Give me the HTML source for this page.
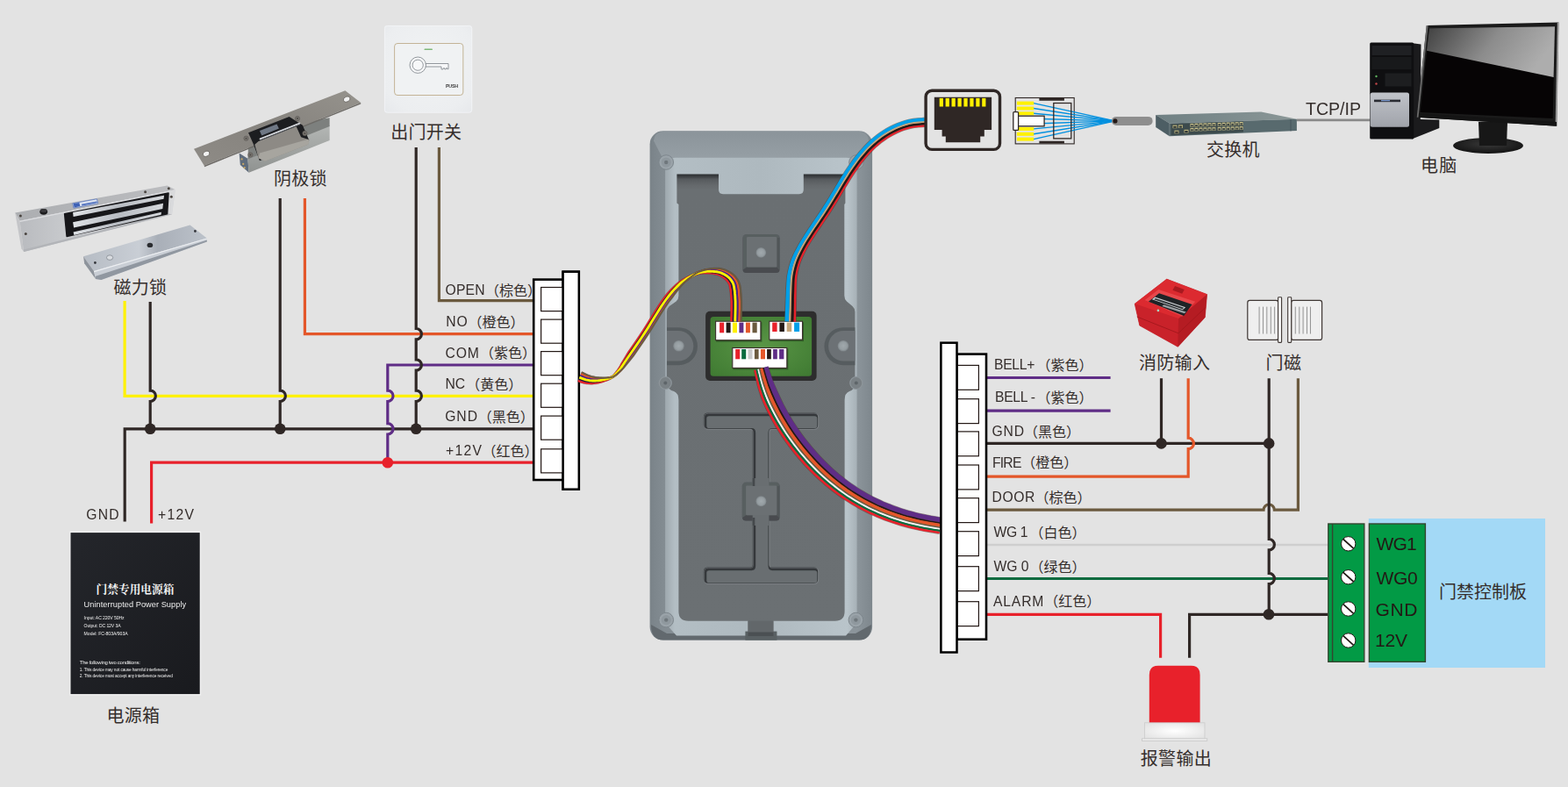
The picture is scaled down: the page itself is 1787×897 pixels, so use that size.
<!DOCTYPE html>
<html lang="zh"><head><meta charset="utf-8"><title>门禁接线图</title>
<style>
html,body{margin:0;padding:0;background:#e3e3e3;}
body{width:1787px;height:897px;overflow:hidden;font-family:"Liberation Sans",sans-serif;}
svg{display:block;}
</style></head><body>
<svg width="1787" height="897" viewBox="0 0 1787 897" font-family="'Liberation Sans', sans-serif"><defs>
<linearGradient id="dvBody" x1="0" x2="1" y1="0" y2="0"><stop offset="0" stop-color="#7a8389"/><stop offset="0.07" stop-color="#848d93"/><stop offset="0.93" stop-color="#8c959b"/><stop offset="1" stop-color="#7e878d"/></linearGradient>
<linearGradient id="dvTop" x1="0" x2="0" y1="0" y2="1"><stop offset="0" stop-color="#8b949a"/><stop offset="1" stop-color="#98a1a7"/></linearGradient>
<linearGradient id="dvFrame" x1="0" x2="1" y1="0" y2="0"><stop offset="0" stop-color="#9ea8ae"/><stop offset="0.05" stop-color="#b3bec4"/><stop offset="0.5" stop-color="#aeb9bf"/><stop offset="0.95" stop-color="#b9c4ca"/><stop offset="1" stop-color="#a7b1b7"/></linearGradient>
<linearGradient id="dvPanel" x1="0" x2="0" y1="0" y2="1"><stop offset="0" stop-color="#2c2f31"/><stop offset="0.005" stop-color="#3c3f42"/><stop offset="0.011" stop-color="#565a5d"/><stop offset="0.024" stop-color="#65696c"/><stop offset="0.034" stop-color="#6a6f72"/><stop offset="1" stop-color="#6b7073"/></linearGradient>
<radialGradient id="pcb" cx="0.5" cy="0.5" r="0.7"><stop offset="0" stop-color="#5a9646"/><stop offset="1" stop-color="#3f7a32"/></radialGradient>
<linearGradient id="boss" x1="0" x2="1" y1="0" y2="1"><stop offset="0" stop-color="#7a8084"/><stop offset="1" stop-color="#5f6467"/></linearGradient>
<radialGradient id="bossd" cx="0.5" cy="0.5" r="0.5"><stop offset="0" stop-color="#a1a9ad"/><stop offset="0.7" stop-color="#959da1"/><stop offset="1" stop-color="#7d8488"/></radialGradient>
<filter id="b05" x="-10%" y="-10%" width="120%" height="120%"><feGaussianBlur stdDeviation="0.45"/></filter>
<filter id="b1" x="-20%" y="-20%" width="140%" height="140%"><feGaussianBlur stdDeviation="0.7"/></filter>
<filter id="b2" x="-20%" y="-20%" width="140%" height="140%"><feGaussianBlur stdDeviation="1.6"/></filter>
<radialGradient id="albase" cx="0.5" cy="0.5" r="0.6"><stop offset="0" stop-color="#ffffff"/><stop offset="1" stop-color="#e4e4e4"/></radialGradient><linearGradient id="swtop" x1="0" x2="1"><stop offset="0" stop-color="#6f8083"/><stop offset="1" stop-color="#8b9797"/></linearGradient><linearGradient id="pcsil" x1="0" x2="0" y1="0" y2="1"><stop offset="0" stop-color="#c0c3c9"/><stop offset="1" stop-color="#a0a3aa"/></linearGradient>
<linearGradient id="scr" x1="0" x2="1" y1="0" y2="0.3"><stop offset="0" stop-color="#404040"/><stop offset="0.55" stop-color="#8c8c8c"/><stop offset="1" stop-color="#adadad"/></linearGradient>
<radialGradient id="mbase" cx="0.5" cy="0.4" r="0.6"><stop offset="0" stop-color="#3a3a3a"/><stop offset="1" stop-color="#121212"/></radialGradient><radialGradient id="exb" cx="0.5" cy="0.45" r="0.75"><stop offset="0" stop-color="#f1f3f4"/><stop offset="0.75" stop-color="#eceef0"/><stop offset="1" stop-color="#e6e8eb"/></radialGradient><linearGradient id="skp" x1="0" x2="1" y1="1" y2="0"><stop offset="0" stop-color="#8e8b86"/><stop offset="0.5" stop-color="#86837e"/><stop offset="1" stop-color="#96938d"/></linearGradient>
<linearGradient id="skb" x1="0" x2="0" y1="0" y2="1"><stop offset="0" stop-color="#b4b7b5"/><stop offset="1" stop-color="#8f9290"/></linearGradient><linearGradient id="mgf" x1="0" x2="1"><stop offset="0" stop-color="#b9bbbf"/><stop offset="0.3" stop-color="#c8cacd"/><stop offset="1" stop-color="#d4d5d8"/></linearGradient>
<linearGradient id="mgt" x1="0" x2="1"><stop offset="0" stop-color="#acaeb1"/><stop offset="1" stop-color="#bcbdc0"/></linearGradient>
<linearGradient id="mgbar" x1="0" x2="1"><stop offset="0" stop-color="#dfe2e6"/><stop offset="0.5" stop-color="#b8bcc2"/><stop offset="1" stop-color="#d5d8dc"/></linearGradient>
<linearGradient id="arm" x1="0" x2="1"><stop offset="0" stop-color="#b6bcc4"/><stop offset="0.45" stop-color="#c9ced5"/><stop offset="0.6" stop-color="#a9afb8"/><stop offset="1" stop-color="#bcc2ca"/></linearGradient><linearGradient id="pbx" x1="0" x2="1" y1="0" y2="1"><stop offset="0" stop-color="#24262b"/><stop offset="1" stop-color="#191a1e"/></linearGradient><clipPath id="iclip"><path d="M806.8 470.4 H927.2 Q932.2 470.4 932.2 475.4 V483.7 Q932.2 488.7 927.2 488.7 H879 Q876.4 488.7 876.4 491.7 V643.4 Q876.4 646.4 879 646.4 H927.2 Q932.2 646.4 932.2 651.4 V659.8 Q932.2 664.8 927.2 664.8 H806.8 Q801.8 664.8 801.8 659.8 V651.4 Q801.8 646.4 806.8 646.4 H855.2 Q857.7 646.4 857.7 643.4 V491.7 Q857.7 488.7 855.2 488.7 H806.8 Q801.8 488.7 801.8 483.7 V475.4 Q801.8 470.4 806.8 470.4Z"/></clipPath></defs><rect width="1787" height="897" fill="#e3e3e3"/>
<path d="M142.1 343 V451.3 H607.0" fill="none" stroke="#fff100" stroke-width="3.20" stroke-linejoin="miter" />
<path d="M142.2 594.6 V488.8 H607.0" fill="none" stroke="#2f2725" stroke-width="3.20" stroke-linejoin="miter" />
<path d="M172.6 596.5 V527.2 H607.0" fill="none" stroke="#e8212b" stroke-width="3.20" stroke-linejoin="miter" />
<path d="M347.4 226 V380.7 H607.0" fill="none" stroke="#e4572a" stroke-width="3.20" stroke-linejoin="miter" />
<path d="M500.4 168 V342.7 H607.0" fill="none" stroke="#6b5a3f" stroke-width="3.20" stroke-linejoin="miter" />
<path d="M607.0 416 H441.8 V445.1 A6.2 6.2 0 0 1 441.8 457.5 V482.6 A6.2 6.2 0 0 1 441.8 495.0 V527.2" fill="none" stroke="#5f2d86" stroke-width="3.20" stroke-linejoin="miter" />
<path d="M171.2 344.0 V445.1 A6.2 6.2 0 0 1 171.2 457.5 V488.8" fill="none" stroke="#2f2725" stroke-width="3.20" stroke-linejoin="miter" />
<path d="M319.2 226.0 V445.1 A6.2 6.2 0 0 1 319.2 457.5 V488.8" fill="none" stroke="#2f2725" stroke-width="3.20" stroke-linejoin="miter" />
<path d="M474.2 168.0 V374.5 A6.2 6.2 0 0 1 474.2 386.9 V409.8 A6.2 6.2 0 0 1 474.2 422.2 V445.1 A6.2 6.2 0 0 1 474.2 457.5 V488.8" fill="none" stroke="#2f2725" stroke-width="3.20" stroke-linejoin="miter" />
<circle cx="171.2" cy="488.8" r="6.3" fill="#2f2725"/>
<circle cx="319.2" cy="488.8" r="6.3" fill="#2f2725"/>
<circle cx="474.2" cy="488.8" r="6.3" fill="#2f2725"/>
<circle cx="441.8" cy="527.2" r="6.3" fill="#e8212b"/>
<rect x="641.6" y="309.7" width="18.2" height="248" fill="#fff" stroke="#000" stroke-width="2.5"/>
<rect x="608.2" y="318.6" width="33.4" height="228.4" fill="#fff" stroke="#000" stroke-width="2.6"/>
<rect x="616.6" y="327.5" width="25" height="27.1" fill="#fff" stroke="#231815" stroke-width="1.2"/>
<rect x="616.6" y="364.1" width="25" height="27.1" fill="#fff" stroke="#231815" stroke-width="1.2"/>
<rect x="616.6" y="400.6" width="25" height="27.1" fill="#fff" stroke="#231815" stroke-width="1.2"/>
<rect x="616.6" y="437.2" width="25" height="27.1" fill="#fff" stroke="#231815" stroke-width="1.2"/>
<rect x="616.6" y="474.1" width="25" height="27.1" fill="#fff" stroke="#231815" stroke-width="1.2"/>
<rect x="616.6" y="511.8" width="25" height="27.1" fill="#fff" stroke="#231815" stroke-width="1.2"/>
<rect x="641.6" y="309.7" width="18.2" height="248" fill="#fff" stroke="#000" stroke-width="2.5"/>
<g opacity="0.999"><text x="507.60" y="336.00" font-size="15.70" fill="#352e2c" text-anchor="start" textLength="45.0" lengthAdjust="spacing">OPEN</text></g>
<text x="553.00" y="336.60" font-size="16" fill="#352e2c" font-family="'Liberation Sans','Noto Sans CJK SC',sans-serif">（棕色）</text>
<g opacity="0.999"><text x="508.20" y="372.00" font-size="15.70" fill="#352e2c" text-anchor="start" textLength="24.5" lengthAdjust="spacing">NO</text></g>
<text x="533.50" y="372.60" font-size="16" fill="#352e2c" font-family="'Liberation Sans','Noto Sans CJK SC',sans-serif">（橙色）</text>
<g opacity="0.999"><text x="507.40" y="407.60" font-size="15.70" fill="#352e2c" text-anchor="start" textLength="38.5" lengthAdjust="spacing">COM</text></g>
<text x="547.00" y="408.20" font-size="16" fill="#352e2c" font-family="'Liberation Sans','Noto Sans CJK SC',sans-serif">（紫色）</text>
<g opacity="0.999"><text x="507.40" y="443.10" font-size="15.70" fill="#352e2c" text-anchor="start" textLength="22.8" lengthAdjust="spacing">NC</text></g>
<text x="531.20" y="443.70" font-size="16" fill="#352e2c" font-family="'Liberation Sans','Noto Sans CJK SC',sans-serif">（黄色）</text>
<g opacity="0.999"><text x="507.20" y="480.20" font-size="15.70" fill="#352e2c" text-anchor="start" textLength="36.8" lengthAdjust="spacing">GND</text></g>
<text x="544.80" y="480.80" font-size="16" fill="#352e2c" font-family="'Liberation Sans','Noto Sans CJK SC',sans-serif">（黑色）</text>
<g opacity="0.999"><text x="508.00" y="519.40" font-size="15.70" fill="#352e2c" text-anchor="start" textLength="41.0" lengthAdjust="spacing">+12V</text></g>
<text x="549.60" y="520.00" font-size="16" fill="#352e2c" font-family="'Liberation Sans','Noto Sans CJK SC',sans-serif">（红色）</text>
<g opacity="0.999"><text x="98.20" y="592.30" font-size="15.70" fill="#352e2c" text-anchor="start" textLength="37.5" lengthAdjust="spacing">GND</text></g>
<g opacity="0.999"><text x="180.00" y="592.30" font-size="15.70" fill="#352e2c" text-anchor="start" textLength="41.0" lengthAdjust="spacing">+12V</text></g>
<text x="129.50" y="334.80" font-size="20" letter-spacing="0.3" fill="#352e2c" font-family="'Liberation Sans','Noto Sans CJK SC',sans-serif">磁力锁</text>
<text x="312.00" y="211.20" font-size="20" letter-spacing="0.3" fill="#352e2c" font-family="'Liberation Sans','Noto Sans CJK SC',sans-serif">阴极锁</text>
<text x="445.20" y="158.30" font-size="20" letter-spacing="0.3" fill="#352e2c" font-family="'Liberation Sans','Noto Sans CJK SC',sans-serif">出门开关</text>
<text x="121.50" y="823.00" font-size="20" letter-spacing="0.3" fill="#352e2c" font-family="'Liberation Sans','Noto Sans CJK SC',sans-serif">电源箱</text>
<g>
<rect x="740.6" y="149.3" width="253.5" height="580.3" rx="15" fill="url(#dvBody)"/>
<path d="M745 160.5 Q746 150.6 756 149.8 H979 Q989 150.6 990 160.5 L976.6 186 H758.1 Z" fill="url(#dvTop)"/>
<path d="M742 712 L760 722 H975 L993 712 Q993 729.6 979 729.6 H756 Q742 729.6 742 712Z" fill="#62696e"/>
<path d="M770 179.8 H964.6 Q976.6 179.8 976.6 191.8 V710 L964 724.5 H771 L758.1 710 V191.8 Q758.1 179.8 770 179.8Z" fill="url(#dvFrame)"/>
<path d="M771.4 198.5 H819 V216 Q819 221.2 824 221.2 H910.8 Q915.8 221.2 915.8 216 V198.5 H963.4 V231.5 L962.3 233 V337 Q962.3 341 965 343.5 L971.5 349 Q974.4 351.5 974.4 355.5 V436 Q974.4 444 968 446 Q962.6 448 962.6 456 V696.7 Q962.6 707.7 951.6 707.7 H881.4 V725 H852.5 V707.7 H784.4 Q773.4 707.7 773.4 696.7 V456 Q773.4 448 768 446 Q759.9 444 759.9 436 V355.5 Q759.9 351.5 762.8 349 L770.6 343.5 Q773.4 341 773.4 337 V233 L771.4 231.5 Z" fill="url(#dvPanel)"/>
<rect x="849.4" y="719.6" width="36" height="10" fill="#596063"/>
<rect x="852.5" y="707.7" width="28.9" height="15" fill="#62676a"/>
<rect x="852.5" y="720.5" width="28.9" height="4.4" fill="#4b5053"/>
<circle cx="759.2" cy="185.0" r="8.3" fill="#9aa3a9" stroke="#7d868c" stroke-width="1"/>
<circle cx="759.2" cy="185.0" r="5.6" fill="#8f989e"/>
<circle cx="759.2" cy="185.0" r="2.2" fill="#6f777c"/>
<circle cx="976.0" cy="185.0" r="8.3" fill="#9aa3a9" stroke="#7d868c" stroke-width="1"/>
<circle cx="976.0" cy="185.0" r="5.6" fill="#8f989e"/>
<circle cx="976.0" cy="185.0" r="2.2" fill="#6f777c"/>
<circle cx="759.2" cy="706.6" r="8.3" fill="#9aa3a9" stroke="#7d868c" stroke-width="1"/>
<circle cx="759.2" cy="706.6" r="5.6" fill="#8f989e"/>
<circle cx="759.2" cy="706.6" r="2.2" fill="#6f777c"/>
<circle cx="975.4" cy="706.6" r="8.3" fill="#9aa3a9" stroke="#7d868c" stroke-width="1"/>
<circle cx="975.4" cy="706.6" r="5.6" fill="#8f989e"/>
<circle cx="975.4" cy="706.6" r="2.2" fill="#6f777c"/>
<circle cx="758.3" cy="436.5" r="7" fill="#7a8185" stroke="#8e969b" stroke-width="1.2"/>
<circle cx="758.3" cy="436.5" r="2" fill="#5e6569"/>
<circle cx="975.8" cy="436.5" r="7" fill="#7a8185" stroke="#8e969b" stroke-width="1.2"/>
<circle cx="975.8" cy="436.5" r="2" fill="#5e6569"/>
<path d="M760 373.2 H773.5 A21.4 21.4 0 0 1 773.5 416.2 H760Z" fill="#575c5f" filter="url(#b05)"/>
<path d="M760 377 H773 A17.3 17.3 0 0 1 773 411.6 H760Z" fill="#6c7174" filter="url(#b05)"/>
<circle cx="773.5" cy="394.2" r="6.3" fill="url(#bossd)"/>
<path d="M974.4 373.2 H960.9 A21.4 21.4 0 0 0 960.9 416.2 H974.4Z" fill="#575c5f" filter="url(#b05)"/>
<path d="M974.4 377 H961.4 A17.3 17.3 0 0 0 961.4 411.6 H974.4Z" fill="#6c7174" filter="url(#b05)"/>
<circle cx="961" cy="394.2" r="6.3" fill="url(#bossd)"/>
<rect x="846.1" y="266.9" width="42.8" height="44.2" rx="4.5" fill="#595e61" filter="url(#b05)"/>
<path d="M846.6 307.6 L851.0 304.4 H885.3 L888.4 307.6 Q888.4 311.1 884.4 311.1 H850.6 Q846.6 311.1 846.6 307.6 Z" fill="#484c4f" filter="url(#b05)"/>
<path d="M888.4 270.9 L885.3 271.1 V304.4 L888.4 307.6 Z" fill="#515659" filter="url(#b05)"/>
<rect x="851.0" y="270.1" width="34.3" height="34.3" rx="1.2" fill="#6b7073"/>
<circle cx="867.3" cy="287.9" r="5.8" fill="url(#bossd)"/>
<g clip-path="url(#iclip)"><path d="M806.8 470.4 H927.2 Q932.2 470.4 932.2 475.4 V483.7 Q932.2 488.7 927.2 488.7 H879 Q876.4 488.7 876.4 491.7 V643.4 Q876.4 646.4 879 646.4 H927.2 Q932.2 646.4 932.2 651.4 V659.8 Q932.2 664.8 927.2 664.8 H806.8 Q801.8 664.8 801.8 659.8 V651.4 Q801.8 646.4 806.8 646.4 H855.2 Q857.7 646.4 857.7 643.4 V491.7 Q857.7 488.7 855.2 488.7 H806.8 Q801.8 488.7 801.8 483.7 V475.4 Q801.8 470.4 806.8 470.4Z" fill="#696e71"/><path d="M806.8 470.4 H927.2 Q932.2 470.4 932.2 475.4 V483.7 Q932.2 488.7 927.2 488.7 H879 Q876.4 488.7 876.4 491.7 V643.4 Q876.4 646.4 879 646.4 H927.2 Q932.2 646.4 932.2 651.4 V659.8 Q932.2 664.8 927.2 664.8 H806.8 Q801.8 664.8 801.8 659.8 V651.4 Q801.8 646.4 806.8 646.4 H855.2 Q857.7 646.4 857.7 643.4 V491.7 Q857.7 488.7 855.2 488.7 H806.8 Q801.8 488.7 801.8 483.7 V475.4 Q801.8 470.4 806.8 470.4Z" fill="none" stroke="#34383a" stroke-width="4.4" filter="url(#b1)" transform="translate(1.3 1.6)"/></g>
<path d="M806.8 470.4 H927.2 Q932.2 470.4 932.2 475.4 V483.7 Q932.2 488.7 927.2 488.7 H879 Q876.4 488.7 876.4 491.7 V643.4 Q876.4 646.4 879 646.4 H927.2 Q932.2 646.4 932.2 651.4 V659.8 Q932.2 664.8 927.2 664.8 H806.8 Q801.8 664.8 801.8 659.8 V651.4 Q801.8 646.4 806.8 646.4 H855.2 Q857.7 646.4 857.7 643.4 V491.7 Q857.7 488.7 855.2 488.7 H806.8 Q801.8 488.7 801.8 483.7 V475.4 Q801.8 470.4 806.8 470.4Z" fill="none" stroke="#8d9397" stroke-opacity="0.5" stroke-width="0.9" filter="url(#b05)" transform="translate(0.6 0.8)"/>
<rect x="845.6" y="549.6" width="43.3" height="44.0" rx="4.5" fill="#595e61" filter="url(#b05)"/>
<path d="M846.1 590.1 L850.1 587.3 H885.3 L888.4 590.1 Q888.4 593.6 884.4 593.6 H850.1 Q846.1 593.6 846.1 590.1 Z" fill="#484c4f" filter="url(#b05)"/>
<path d="M888.4 553.6 L885.3 554.6 V587.3 L888.4 590.1 Z" fill="#515659" filter="url(#b05)"/>
<rect x="850.1" y="553.6" width="35.2" height="33.7" rx="1.2" fill="#6b7073"/>
<rect x="857.7" y="545" width="18.7" height="9" fill="#696e71"/><rect x="857.7" y="545" width="2.6" height="9" fill="#45494c"/>
<rect x="857.7" y="587" width="18.7" height="12" fill="#696e71"/><rect x="857.7" y="590" width="2.6" height="9" fill="#45494c"/>
<circle cx="867.4" cy="571.3" r="6" fill="url(#bossd)"/>
<rect x="804.1" y="354.7" width="126.5" height="79.3" rx="5" fill="#2d2d2d"/>
<rect x="809.6" y="360.9" width="115.5" height="67.9" rx="3.5" fill="url(#pcb)"/>
<rect x="816.1" y="367.2" width="52.3" height="22.5" fill="#1e3a18" opacity="0.55" filter="url(#b1)"/>
<rect x="815.6" y="366.2" width="51.3" height="21.5" fill="#fff" stroke="#3a2e2b" stroke-width="1.1"/>
<rect x="820.1" y="367.6" width="5.1" height="11.7" fill="#e8212b"/>
<rect x="827.6" y="367.6" width="5.0" height="11.7" fill="#231815"/>
<rect x="834.9" y="367.6" width="5.1" height="11.7" fill="#fff100"/>
<rect x="842.4" y="367.6" width="5.0" height="11.7" fill="#5f2d86"/>
<rect x="849.9" y="367.6" width="5.0" height="11.7" fill="#e4572a"/>
<rect x="857.5" y="367.6" width="5.2" height="11.7" fill="#6b5a3f"/>
<rect x="877.3" y="367.2" width="38.7" height="21.9" fill="#1e3a18" opacity="0.55" filter="url(#b1)"/>
<rect x="876.8" y="366.2" width="37.7" height="20.9" fill="#fff" stroke="#3a2e2b" stroke-width="1.1"/>
<rect x="880.2" y="367.6" width="5.4" height="10.4" fill="#e8212b"/>
<rect x="888.4" y="367.6" width="5.5" height="10.4" fill="#231815"/>
<rect x="896.7" y="367.6" width="5.5" height="10.4" fill="#c4a57c"/>
<rect x="905.1" y="367.6" width="6.0" height="10.4" fill="#00a0e9"/>
<rect x="835.3" y="397.5" width="63.0" height="23.9" fill="#1e3a18" opacity="0.55" filter="url(#b1)"/>
<rect x="834.8" y="396.5" width="62.0" height="22.9" fill="#fff" stroke="#3a2e2b" stroke-width="1.1"/>
<rect x="838.2" y="398.0" width="5.0" height="11.3" fill="#e8212b"/>
<rect x="845.2" y="398.0" width="5.0" height="11.3" fill="#0b6b3f"/>
<rect x="852.5" y="398.0" width="5.0" height="11.3" fill="#c9c9c9"/>
<rect x="859.9" y="398.0" width="4.7" height="11.3" fill="#6b5a3f"/>
<rect x="866.9" y="398.0" width="5.1" height="11.3" fill="#e4572a"/>
<rect x="874.1" y="398.0" width="4.7" height="11.3" fill="#231815"/>
<rect x="881.1" y="398.0" width="4.7" height="11.3" fill="#5f2d86"/>
<rect x="888.1" y="398.0" width="5.3" height="11.3" fill="#5f2d86"/>
</g>
<path d="M658.8 433.7 L659.6 434.0 L660.6 434.5 L662.0 434.9 L663.5 435.4 L665.2 435.9 L666.8 436.2 L668.4 436.5 L669.9 436.7 L671.6 436.8 L673.2 436.9 L674.9 436.9 L676.7 436.7 L678.4 436.5 L680.2 436.3 L682.0 435.9 L683.8 435.5 L685.6 435.0 L687.3 434.4 L689.0 433.8 L690.8 433.2 L692.6 432.5 L694.4 431.7 L696.0 430.8 L697.5 429.8 L698.8 428.8 L700.0 427.7 L701.1 426.4 L702.1 425.1 L703.1 423.7 L704.2 422.3 L705.1 421.0 L705.8 419.9 L706.5 418.8 L707.4 417.3 L708.6 415.0 L710.5 411.8 L713.2 407.3 L716.5 401.8 L720.6 395.9 L724.9 389.7 L729.1 383.4 L733.1 377.5 L736.7 371.8 L740.4 365.8 L744.0 359.9 L747.6 354.1 L751.1 348.6 L754.5 343.6 L757.8 339.1 L760.9 335.0 L764.1 331.3 L767.3 328.1 L770.5 325.1 L773.6 322.5 L776.8 320.2 L779.9 318.3 L782.9 316.7 L785.8 315.3 L788.5 314.2 L790.9 313.2 L793.0 312.4 L794.7 311.9 L796.3 311.5 L797.7 311.3 L799.2 311.1 L800.7 311.0 L802.4 310.9 L804.0 310.8 L805.7 310.9 L807.4 310.9 L809.0 311.1 L810.6 311.2 L812.2 311.4 L813.7 311.6 L815.2 311.9 L816.6 312.2 L817.9 312.6 L819.2 313.0 L820.4 313.5 L821.6 314.1 L822.8 314.8 L824.0 315.5 L825.1 316.3 L826.1 317.1 L827.0 317.9 L827.9 318.7 L828.6 319.6 L829.4 320.5 L830.0 321.3 L830.6 322.3 L831.1 323.2 L831.5 324.0 L831.7 324.6 L831.9 325.4 L832.2 326.5 L832.4 328.0 L832.7 329.9 L833.0 332.2 L833.3 334.8 L833.5 337.5 L833.7 340.5 L833.8 343.6 L833.9 347.2 L833.8 351.5 L833.8 355.9 L833.7 360.2 L833.6 363.8 L833.5 366.4" fill="none" stroke="#4a3a30" stroke-opacity="0.45" stroke-width="3.30"/>
<path d="M662.0 426.1 L662.8 426.5 L663.8 426.9 L665.0 427.5 L666.3 428.1 L667.6 428.7 L668.8 429.1 L670.0 429.5 L671.3 429.9 L672.7 430.3 L674.0 430.6 L675.4 430.9 L676.9 431.1 L678.4 431.3 L680.0 431.4 L681.7 431.5 L683.3 431.5 L685.1 431.5 L686.8 431.4 L688.6 431.3 L690.4 431.2 L692.3 431.0 L694.1 430.7 L695.8 430.3 L697.5 429.8 L699.0 429.0 L700.4 428.1 L701.7 427.1 L703.0 426.0 L704.3 424.8 L705.6 423.5 L706.7 422.4 L707.6 421.4 L708.6 420.4 L709.7 419.0 L711.3 416.9 L713.7 414.0 L716.9 409.9 L720.7 404.7 L724.8 398.8 L729.1 392.5 L733.4 386.3 L737.3 380.3 L741.0 374.5 L744.7 368.5 L748.4 362.5 L751.9 356.8 L755.4 351.3 L758.7 346.5 L761.8 342.1 L764.9 338.1 L767.8 334.4 L770.5 330.9 L773.2 327.8 L775.8 324.8 L778.4 322.2 L781.1 319.9 L783.7 317.9 L786.3 316.2 L788.7 314.6 L790.9 313.2 L792.8 312.0 L794.4 311.1 L795.9 310.5 L797.4 309.9 L798.8 309.5 L800.3 309.0 L802.0 308.6 L803.7 308.2 L805.5 307.9 L807.2 307.6 L808.9 307.5 L810.6 307.3 L812.2 307.2 L813.9 307.1 L815.6 307.1 L817.2 307.2 L818.9 307.4 L820.6 307.6 L822.2 308.0 L823.9 308.5 L825.5 309.1 L827.0 309.7 L828.5 310.5 L830.0 311.3 L831.3 312.1 L832.6 313.1 L833.9 314.1 L835.1 315.2 L836.2 316.4 L837.1 317.6 L838.0 318.8 L838.7 319.9 L839.4 321.2 L840.1 322.7 L840.6 324.4 L841.1 326.3 L841.5 328.6 L841.8 331.2 L842.1 334.0 L842.3 336.9 L842.5 340.1 L842.7 343.4 L842.7 347.2 L842.7 351.6 L842.6 356.1 L842.5 360.4 L842.4 364.0 L842.4 366.6" fill="none" stroke="#4a3a30" stroke-opacity="0.45" stroke-width="3.30"/>
<path d="M659.6 432.0 L660.3 432.3 L661.4 432.7 L662.7 433.2 L664.2 433.7 L665.7 434.2 L667.3 434.6 L668.8 434.9 L670.3 435.1 L671.8 435.3 L673.4 435.4 L675.1 435.5 L676.7 435.5 L678.4 435.3 L680.2 435.1 L681.9 434.9 L683.7 434.5 L685.4 434.1 L687.2 433.7 L688.9 433.2 L690.7 432.7 L692.5 432.1 L694.3 431.5 L696.0 430.7 L697.5 429.8 L698.9 428.8 L700.1 427.8 L701.2 426.6 L702.3 425.3 L703.4 424.0 L704.5 422.5 L705.5 421.3 L706.2 420.3 L707.0 419.2 L707.9 417.7 L709.3 415.5 L711.2 412.3 L714.0 407.9 L717.5 402.5 L721.6 396.6 L725.9 390.3 L730.1 384.1 L734.0 378.2 L737.7 372.4 L741.4 366.5 L745.0 360.5 L748.6 354.7 L752.1 349.2 L755.5 344.2 L758.7 339.8 L761.8 335.7 L765.0 332.0 L768.0 328.7 L771.1 325.7 L774.1 323.0 L777.1 320.7 L780.2 318.7 L783.1 317.0 L785.9 315.5 L788.5 314.3 L790.9 313.2 L792.9 312.3 L794.7 311.7 L796.2 311.3 L797.6 311.0 L799.1 310.7 L800.6 310.5 L802.3 310.3 L804.0 310.2 L805.7 310.2 L807.3 310.2 L809.0 310.2 L810.6 310.3 L812.2 310.5 L813.7 310.6 L815.3 310.8 L816.7 311.1 L818.1 311.4 L819.5 311.8 L820.8 312.3 L822.1 312.8 L823.4 313.5 L824.7 314.2 L825.9 314.9 L827.0 315.7 L828.0 316.5 L829.0 317.4 L829.9 318.3 L830.7 319.2 L831.4 320.2 L832.1 321.2 L832.7 322.2 L833.2 323.0 L833.5 323.8 L833.8 324.8 L834.1 326.0 L834.4 327.6 L834.8 329.6 L835.1 332.0 L835.3 334.6 L835.6 337.4 L835.7 340.4 L835.9 343.6 L835.9 347.2 L835.9 351.5 L835.8 356.0 L835.7 360.2 L835.6 363.8 L835.6 366.4" fill="none" stroke="#4a3a30" stroke-opacity="0.45" stroke-width="2.50"/>
<path d="M661.2 428.0 L662.0 428.4 L663.0 428.8 L664.3 429.4 L665.6 430.0 L667.0 430.5 L668.3 430.9 L669.6 431.3 L671.0 431.6 L672.4 431.9 L673.8 432.2 L675.3 432.4 L676.8 432.5 L678.4 432.6 L680.1 432.6 L681.7 432.6 L683.5 432.5 L685.2 432.3 L686.9 432.1 L688.7 431.9 L690.5 431.7 L692.4 431.3 L694.2 431.0 L695.9 430.5 L697.5 429.8 L699.0 429.0 L700.3 428.0 L701.5 426.9 L702.8 425.8 L704.0 424.5 L705.2 423.2 L706.3 422.0 L707.2 421.0 L708.0 420.0 L709.1 418.5 L710.7 416.5 L712.9 413.4 L715.9 409.2 L719.7 404.0 L723.8 398.1 L728.1 391.8 L732.3 385.6 L736.2 379.6 L740.0 373.8 L743.7 367.8 L747.3 361.9 L750.8 356.1 L754.3 350.7 L757.6 345.7 L760.8 341.3 L763.9 337.3 L766.8 333.6 L769.7 330.2 L772.5 327.1 L775.2 324.3 L778.0 321.7 L780.8 319.5 L783.5 317.6 L786.2 316.0 L788.7 314.5 L790.9 313.2 L792.8 312.1 L794.5 311.3 L796.0 310.7 L797.4 310.3 L798.9 309.9 L800.4 309.5 L802.1 309.1 L803.8 308.8 L805.5 308.6 L807.2 308.5 L808.9 308.4 L810.6 308.3 L812.2 308.3 L813.9 308.3 L815.5 308.3 L817.1 308.5 L818.7 308.7 L820.2 309.0 L821.8 309.4 L823.3 309.9 L824.8 310.5 L826.3 311.2 L827.7 311.9 L829.0 312.7 L830.2 313.6 L831.4 314.5 L832.6 315.5 L833.6 316.5 L834.6 317.6 L835.5 318.8 L836.3 319.9 L836.9 320.9 L837.5 322.1 L838.0 323.4 L838.5 324.9 L838.9 326.7 L839.3 329.0 L839.6 331.4 L839.9 334.2 L840.1 337.1 L840.3 340.2 L840.4 343.5 L840.5 347.2 L840.5 351.6 L840.4 356.1 L840.3 360.3 L840.2 364.0 L840.1 366.5" fill="none" stroke="#4a3a30" stroke-opacity="0.45" stroke-width="2.80"/>
<path d="M660.3 430.1 L661.1 430.4 L662.2 430.9 L663.4 431.4 L664.9 431.9 L666.3 432.4 L667.8 432.8 L669.2 433.1 L670.6 433.4 L672.1 433.7 L673.6 433.9 L675.2 434.0 L676.8 434.0 L678.4 434.0 L680.1 433.9 L681.8 433.8 L683.6 433.6 L685.3 433.3 L687.1 432.9 L688.8 432.6 L690.6 432.2 L692.5 431.7 L694.2 431.2 L695.9 430.6 L697.5 429.8 L698.9 428.9 L700.2 427.9 L701.4 426.8 L702.5 425.5 L703.7 424.2 L704.8 422.9 L705.9 421.6 L706.7 420.6 L707.5 419.6 L708.5 418.1 L709.9 416.0 L712.0 412.8 L714.9 408.5 L718.5 403.2 L722.6 397.3 L726.9 391.1 L731.2 384.8 L735.1 378.9 L738.8 373.1 L742.5 367.1 L746.1 361.2 L749.7 355.4 L753.2 349.9 L756.5 345.0 L759.7 340.5 L762.8 336.5 L765.9 332.8 L768.8 329.4 L771.8 326.4 L774.6 323.6 L777.6 321.2 L780.5 319.1 L783.3 317.3 L786.1 315.7 L788.6 314.4 L790.9 313.2 L792.9 312.2 L794.6 311.5 L796.1 311.0 L797.5 310.6 L799.0 310.3 L800.5 310.0 L802.2 309.8 L803.9 309.6 L805.6 309.4 L807.3 309.4 L809.0 309.3 L810.6 309.4 L812.2 309.4 L813.8 309.5 L815.4 309.6 L816.9 309.8 L818.4 310.1 L819.8 310.4 L821.3 310.9 L822.7 311.4 L824.1 312.1 L825.5 312.7 L826.7 313.5 L828.0 314.3 L829.1 315.1 L830.2 316.0 L831.2 316.9 L832.1 317.9 L833.0 319.0 L833.7 320.0 L834.4 321.1 L835.0 322.0 L835.4 323.0 L835.9 324.1 L836.2 325.5 L836.6 327.2 L836.9 329.3 L837.3 331.7 L837.5 334.4 L837.8 337.3 L837.9 340.3 L838.1 343.5 L838.1 347.2 L838.1 351.5 L838.0 356.0 L837.9 360.3 L837.8 363.9 L837.8 366.5" fill="none" stroke="#4a3a30" stroke-opacity="0.45" stroke-width="3.60"/>
<path d="M662.7 424.3 L663.5 424.7 L664.6 425.2 L665.8 425.8 L667.0 426.4 L668.1 427.0 L669.3 427.5 L670.4 427.9 L671.7 428.3 L672.9 428.8 L674.2 429.2 L675.5 429.5 L676.9 429.8 L678.4 430.1 L679.9 430.3 L681.6 430.4 L683.2 430.6 L684.9 430.6 L686.7 430.7 L688.5 430.7 L690.3 430.7 L692.2 430.6 L694.0 430.5 L695.8 430.2 L697.5 429.8 L699.0 429.1 L700.5 428.2 L701.9 427.3 L703.2 426.2 L704.5 425.0 L705.9 423.8 L707.1 422.7 L708.1 421.8 L709.1 420.7 L710.3 419.4 L712.0 417.4 L714.4 414.5 L717.7 410.5 L721.7 405.4 L725.8 399.5 L730.1 393.2 L734.4 386.9 L738.3 381.0 L742.1 375.1 L745.8 369.1 L749.4 363.2 L753.0 357.4 L756.4 352.0 L759.7 347.2 L762.8 342.8 L765.9 338.9 L768.6 335.1 L771.2 331.6 L773.8 328.4 L776.3 325.4 L778.8 322.7 L781.4 320.4 L783.9 318.2 L786.4 316.4 L788.8 314.7 L790.9 313.2 L792.7 311.9 L794.4 311.0 L795.8 310.2 L797.3 309.6 L798.7 309.1 L800.2 308.5 L801.9 308.0 L803.7 307.6 L805.4 307.2 L807.2 306.9 L808.9 306.6 L810.6 306.4 L812.3 306.2 L814.0 306.1 L815.7 306.0 L817.4 306.0 L819.1 306.1 L820.9 306.4 L822.6 306.7 L824.4 307.2 L826.1 307.7 L827.7 308.4 L829.3 309.1 L830.9 309.9 L832.4 310.8 L833.8 311.8 L835.1 312.8 L836.4 314.0 L837.6 315.2 L838.7 316.5 L839.6 317.7 L840.5 319.0 L841.3 320.4 L842.0 322.0 L842.6 323.9 L843.2 325.9 L843.6 328.3 L843.9 330.9 L844.2 333.8 L844.4 336.8 L844.6 340.0 L844.8 343.4 L844.8 347.2 L844.8 351.6 L844.7 356.1 L844.6 360.4 L844.5 364.1 L844.5 366.6" fill="none" stroke="#4a3a30" stroke-opacity="0.45" stroke-width="2.60"/>
<path d="M658.8 433.7 L659.6 434.0 L660.6 434.5 L662.0 434.9 L663.5 435.4 L665.2 435.9 L666.8 436.2 L668.4 436.5 L669.9 436.7 L671.6 436.8 L673.2 436.9 L674.9 436.9 L676.7 436.7 L678.4 436.5 L680.2 436.3 L682.0 435.9 L683.8 435.5 L685.6 435.0 L687.3 434.4 L689.0 433.8 L690.8 433.2 L692.6 432.5 L694.4 431.7 L696.0 430.8 L697.5 429.8 L698.8 428.8 L700.0 427.7 L701.1 426.4 L702.1 425.1 L703.1 423.7 L704.2 422.3 L705.1 421.0 L705.8 419.9 L706.5 418.8 L707.4 417.3 L708.6 415.0 L710.5 411.8 L713.2 407.3 L716.5 401.8 L720.6 395.9 L724.9 389.7 L729.1 383.4 L733.1 377.5 L736.7 371.8 L740.4 365.8 L744.0 359.9 L747.6 354.1 L751.1 348.6 L754.5 343.6 L757.8 339.1 L760.9 335.0 L764.1 331.3 L767.3 328.1 L770.5 325.1 L773.6 322.5 L776.8 320.2 L779.9 318.3 L782.9 316.7 L785.8 315.3 L788.5 314.2 L790.9 313.2 L793.0 312.4 L794.7 311.9 L796.3 311.5 L797.7 311.3 L799.2 311.1 L800.7 311.0 L802.4 310.9 L804.0 310.8 L805.7 310.9 L807.4 310.9 L809.0 311.1 L810.6 311.2 L812.2 311.4 L813.7 311.6 L815.2 311.9 L816.6 312.2 L817.9 312.6 L819.2 313.0 L820.4 313.5 L821.6 314.1 L822.8 314.8 L824.0 315.5 L825.1 316.3 L826.1 317.1 L827.0 317.9 L827.9 318.7 L828.6 319.6 L829.4 320.5 L830.0 321.3 L830.6 322.3 L831.1 323.2 L831.5 324.0 L831.7 324.6 L831.9 325.4 L832.2 326.5 L832.4 328.0 L832.7 329.9 L833.0 332.2 L833.3 334.8 L833.5 337.5 L833.7 340.5 L833.8 343.6 L833.9 347.2 L833.8 351.5 L833.8 355.9 L833.7 360.2 L833.6 363.8 L833.5 366.4" fill="none" stroke="#e8212b" stroke-width="2.60"/>
<path d="M662.0 426.1 L662.8 426.5 L663.8 426.9 L665.0 427.5 L666.3 428.1 L667.6 428.7 L668.8 429.1 L670.0 429.5 L671.3 429.9 L672.7 430.3 L674.0 430.6 L675.4 430.9 L676.9 431.1 L678.4 431.3 L680.0 431.4 L681.7 431.5 L683.3 431.5 L685.1 431.5 L686.8 431.4 L688.6 431.3 L690.4 431.2 L692.3 431.0 L694.1 430.7 L695.8 430.3 L697.5 429.8 L699.0 429.0 L700.4 428.1 L701.7 427.1 L703.0 426.0 L704.3 424.8 L705.6 423.5 L706.7 422.4 L707.6 421.4 L708.6 420.4 L709.7 419.0 L711.3 416.9 L713.7 414.0 L716.9 409.9 L720.7 404.7 L724.8 398.8 L729.1 392.5 L733.4 386.3 L737.3 380.3 L741.0 374.5 L744.7 368.5 L748.4 362.5 L751.9 356.8 L755.4 351.3 L758.7 346.5 L761.8 342.1 L764.9 338.1 L767.8 334.4 L770.5 330.9 L773.2 327.8 L775.8 324.8 L778.4 322.2 L781.1 319.9 L783.7 317.9 L786.3 316.2 L788.7 314.6 L790.9 313.2 L792.8 312.0 L794.4 311.1 L795.9 310.5 L797.4 309.9 L798.8 309.5 L800.3 309.0 L802.0 308.6 L803.7 308.2 L805.5 307.9 L807.2 307.6 L808.9 307.5 L810.6 307.3 L812.2 307.2 L813.9 307.1 L815.6 307.1 L817.2 307.2 L818.9 307.4 L820.6 307.6 L822.2 308.0 L823.9 308.5 L825.5 309.1 L827.0 309.7 L828.5 310.5 L830.0 311.3 L831.3 312.1 L832.6 313.1 L833.9 314.1 L835.1 315.2 L836.2 316.4 L837.1 317.6 L838.0 318.8 L838.7 319.9 L839.4 321.2 L840.1 322.7 L840.6 324.4 L841.1 326.3 L841.5 328.6 L841.8 331.2 L842.1 334.0 L842.3 336.9 L842.5 340.1 L842.7 343.4 L842.7 347.2 L842.7 351.6 L842.6 356.1 L842.5 360.4 L842.4 364.0 L842.4 366.6" fill="none" stroke="#e4572a" stroke-width="2.60"/>
<path d="M659.6 432.0 L660.3 432.3 L661.4 432.7 L662.7 433.2 L664.2 433.7 L665.7 434.2 L667.3 434.6 L668.8 434.9 L670.3 435.1 L671.8 435.3 L673.4 435.4 L675.1 435.5 L676.7 435.5 L678.4 435.3 L680.2 435.1 L681.9 434.9 L683.7 434.5 L685.4 434.1 L687.2 433.7 L688.9 433.2 L690.7 432.7 L692.5 432.1 L694.3 431.5 L696.0 430.7 L697.5 429.8 L698.9 428.8 L700.1 427.8 L701.2 426.6 L702.3 425.3 L703.4 424.0 L704.5 422.5 L705.5 421.3 L706.2 420.3 L707.0 419.2 L707.9 417.7 L709.3 415.5 L711.2 412.3 L714.0 407.9 L717.5 402.5 L721.6 396.6 L725.9 390.3 L730.1 384.1 L734.0 378.2 L737.7 372.4 L741.4 366.5 L745.0 360.5 L748.6 354.7 L752.1 349.2 L755.5 344.2 L758.7 339.8 L761.8 335.7 L765.0 332.0 L768.0 328.7 L771.1 325.7 L774.1 323.0 L777.1 320.7 L780.2 318.7 L783.1 317.0 L785.9 315.5 L788.5 314.3 L790.9 313.2 L792.9 312.3 L794.7 311.7 L796.2 311.3 L797.6 311.0 L799.1 310.7 L800.6 310.5 L802.3 310.3 L804.0 310.2 L805.7 310.2 L807.3 310.2 L809.0 310.2 L810.6 310.3 L812.2 310.5 L813.7 310.6 L815.3 310.8 L816.7 311.1 L818.1 311.4 L819.5 311.8 L820.8 312.3 L822.1 312.8 L823.4 313.5 L824.7 314.2 L825.9 314.9 L827.0 315.7 L828.0 316.5 L829.0 317.4 L829.9 318.3 L830.7 319.2 L831.4 320.2 L832.1 321.2 L832.7 322.2 L833.2 323.0 L833.5 323.8 L833.8 324.8 L834.1 326.0 L834.4 327.6 L834.8 329.6 L835.1 332.0 L835.3 334.6 L835.6 337.4 L835.7 340.4 L835.9 343.6 L835.9 347.2 L835.9 351.5 L835.8 356.0 L835.7 360.2 L835.6 363.8 L835.6 366.4" fill="none" stroke="#1d1a3a" stroke-width="1.80"/>
<path d="M661.2 428.0 L662.0 428.4 L663.0 428.8 L664.3 429.4 L665.6 430.0 L667.0 430.5 L668.3 430.9 L669.6 431.3 L671.0 431.6 L672.4 431.9 L673.8 432.2 L675.3 432.4 L676.8 432.5 L678.4 432.6 L680.1 432.6 L681.7 432.6 L683.5 432.5 L685.2 432.3 L686.9 432.1 L688.7 431.9 L690.5 431.7 L692.4 431.3 L694.2 431.0 L695.9 430.5 L697.5 429.8 L699.0 429.0 L700.3 428.0 L701.5 426.9 L702.8 425.8 L704.0 424.5 L705.2 423.2 L706.3 422.0 L707.2 421.0 L708.0 420.0 L709.1 418.5 L710.7 416.5 L712.9 413.4 L715.9 409.2 L719.7 404.0 L723.8 398.1 L728.1 391.8 L732.3 385.6 L736.2 379.6 L740.0 373.8 L743.7 367.8 L747.3 361.9 L750.8 356.1 L754.3 350.7 L757.6 345.7 L760.8 341.3 L763.9 337.3 L766.8 333.6 L769.7 330.2 L772.5 327.1 L775.2 324.3 L778.0 321.7 L780.8 319.5 L783.5 317.6 L786.2 316.0 L788.7 314.5 L790.9 313.2 L792.8 312.1 L794.5 311.3 L796.0 310.7 L797.4 310.3 L798.9 309.9 L800.4 309.5 L802.1 309.1 L803.8 308.8 L805.5 308.6 L807.2 308.5 L808.9 308.4 L810.6 308.3 L812.2 308.3 L813.9 308.3 L815.5 308.3 L817.1 308.5 L818.7 308.7 L820.2 309.0 L821.8 309.4 L823.3 309.9 L824.8 310.5 L826.3 311.2 L827.7 311.9 L829.0 312.7 L830.2 313.6 L831.4 314.5 L832.6 315.5 L833.6 316.5 L834.6 317.6 L835.5 318.8 L836.3 319.9 L836.9 320.9 L837.5 322.1 L838.0 323.4 L838.5 324.9 L838.9 326.7 L839.3 329.0 L839.6 331.4 L839.9 334.2 L840.1 337.1 L840.3 340.2 L840.4 343.5 L840.5 347.2 L840.5 351.6 L840.4 356.1 L840.3 360.3 L840.2 364.0 L840.1 366.5" fill="none" stroke="#43218f" stroke-width="2.10"/>
<path d="M660.3 430.1 L661.1 430.4 L662.2 430.9 L663.4 431.4 L664.9 431.9 L666.3 432.4 L667.8 432.8 L669.2 433.1 L670.6 433.4 L672.1 433.7 L673.6 433.9 L675.2 434.0 L676.8 434.0 L678.4 434.0 L680.1 433.9 L681.8 433.8 L683.6 433.6 L685.3 433.3 L687.1 432.9 L688.8 432.6 L690.6 432.2 L692.5 431.7 L694.2 431.2 L695.9 430.6 L697.5 429.8 L698.9 428.9 L700.2 427.9 L701.4 426.8 L702.5 425.5 L703.7 424.2 L704.8 422.9 L705.9 421.6 L706.7 420.6 L707.5 419.6 L708.5 418.1 L709.9 416.0 L712.0 412.8 L714.9 408.5 L718.5 403.2 L722.6 397.3 L726.9 391.1 L731.2 384.8 L735.1 378.9 L738.8 373.1 L742.5 367.1 L746.1 361.2 L749.7 355.4 L753.2 349.9 L756.5 345.0 L759.7 340.5 L762.8 336.5 L765.9 332.8 L768.8 329.4 L771.8 326.4 L774.6 323.6 L777.6 321.2 L780.5 319.1 L783.3 317.3 L786.1 315.7 L788.6 314.4 L790.9 313.2 L792.9 312.2 L794.6 311.5 L796.1 311.0 L797.5 310.6 L799.0 310.3 L800.5 310.0 L802.2 309.8 L803.9 309.6 L805.6 309.4 L807.3 309.4 L809.0 309.3 L810.6 309.4 L812.2 309.4 L813.8 309.5 L815.4 309.6 L816.9 309.8 L818.4 310.1 L819.8 310.4 L821.3 310.9 L822.7 311.4 L824.1 312.1 L825.5 312.7 L826.7 313.5 L828.0 314.3 L829.1 315.1 L830.2 316.0 L831.2 316.9 L832.1 317.9 L833.0 319.0 L833.7 320.0 L834.4 321.1 L835.0 322.0 L835.4 323.0 L835.9 324.1 L836.2 325.5 L836.6 327.2 L836.9 329.3 L837.3 331.7 L837.5 334.4 L837.8 337.3 L837.9 340.3 L838.1 343.5 L838.1 347.2 L838.1 351.5 L838.0 356.0 L837.9 360.3 L837.8 363.9 L837.8 366.5" fill="none" stroke="#fff100" stroke-width="2.90"/>
<path d="M662.7 424.3 L663.5 424.7 L664.6 425.2 L665.8 425.8 L667.0 426.4 L668.1 427.0 L669.3 427.5 L670.4 427.9 L671.7 428.3 L672.9 428.8 L674.2 429.2 L675.5 429.5 L676.9 429.8 L678.4 430.1 L679.9 430.3 L681.6 430.4 L683.2 430.6 L684.9 430.6 L686.7 430.7 L688.5 430.7 L690.3 430.7 L692.2 430.6 L694.0 430.5 L695.8 430.2 L697.5 429.8 L699.0 429.1 L700.5 428.2 L701.9 427.3 L703.2 426.2 L704.5 425.0 L705.9 423.8 L707.1 422.7 L708.1 421.8 L709.1 420.7 L710.3 419.4 L712.0 417.4 L714.4 414.5 L717.7 410.5 L721.7 405.4 L725.8 399.5 L730.1 393.2 L734.4 386.9 L738.3 381.0 L742.1 375.1 L745.8 369.1 L749.4 363.2 L753.0 357.4 L756.4 352.0 L759.7 347.2 L762.8 342.8 L765.9 338.9 L768.6 335.1 L771.2 331.6 L773.8 328.4 L776.3 325.4 L778.8 322.7 L781.4 320.4 L783.9 318.2 L786.4 316.4 L788.8 314.7 L790.9 313.2 L792.7 311.9 L794.4 311.0 L795.8 310.2 L797.3 309.6 L798.7 309.1 L800.2 308.5 L801.9 308.0 L803.7 307.6 L805.4 307.2 L807.2 306.9 L808.9 306.6 L810.6 306.4 L812.3 306.2 L814.0 306.1 L815.7 306.0 L817.4 306.0 L819.1 306.1 L820.9 306.4 L822.6 306.7 L824.4 307.2 L826.1 307.7 L827.7 308.4 L829.3 309.1 L830.9 309.9 L832.4 310.8 L833.8 311.8 L835.1 312.8 L836.4 314.0 L837.6 315.2 L838.7 316.5 L839.6 317.7 L840.5 319.0 L841.3 320.4 L842.0 322.0 L842.6 323.9 L843.2 325.9 L843.6 328.3 L843.9 330.9 L844.2 333.8 L844.4 336.8 L844.6 340.0 L844.8 343.4 L844.8 347.2 L844.8 351.6 L844.7 356.1 L844.6 360.4 L844.5 364.1 L844.5 366.6" fill="none" stroke="#6b5a3f" stroke-width="1.90"/>
<path d="M1054.5 145.0 L1051.3 145.3 L1046.9 145.6 L1042.2 146.1 L1037.9 146.9 L1034.1 147.9 L1030.3 149.1 L1026.5 150.6 L1022.8 152.2 L1019.1 154.0 L1015.5 155.9 L1012.0 158.1 L1008.6 160.4 L1005.3 162.8 L1002.0 165.4 L998.9 168.1 L995.9 171.0 L993.0 173.9 L990.2 177.0 L987.4 180.1 L984.7 183.4 L982.2 186.7 L979.7 190.0 L977.2 193.5 L974.8 197.0 L972.5 200.5 L970.2 204.1 L967.9 207.8 L965.7 211.5 L963.4 215.1 L961.2 218.8 L959.0 222.5 L956.8 226.3 L954.5 230.0 L952.2 233.7 L949.9 237.5 L947.5 241.2 L945.1 244.9 L942.7 248.5 L940.3 252.1 L937.8 255.8 L935.4 259.4 L932.9 263.0 L930.5 266.6 L928.2 270.2 L925.8 273.8 L923.5 277.5 L921.4 281.1 L919.4 284.8 L917.5 288.5 L915.7 292.2 L914.1 295.9 L912.7 299.6 L911.5 303.3 L910.5 307.2 L909.7 311.1 L909.0 315.0 L908.6 319.0 L908.4 323.1 L908.3 327.5 L908.2 331.9 L908.1 336.4 L908.1 340.9 L908.0 345.4 L908.0 349.9 L907.9 354.6 L907.8 359.4 L907.8 363.7 L907.7 366.7 L893.7 366.3 L893.8 363.3 L894.0 359.0 L894.2 354.2 L894.4 349.5 L894.6 345.1 L894.8 340.6 L894.9 336.0 L895.2 331.5 L895.4 327.0 L895.6 322.5 L896.0 317.9 L896.6 313.2 L897.5 308.6 L898.5 304.2 L899.8 299.8 L901.3 295.4 L903.1 291.2 L905.0 287.1 L907.1 283.1 L909.2 279.2 L911.5 275.3 L913.9 271.5 L916.2 267.7 L918.6 264.0 L921.0 260.3 L923.5 256.6 L925.9 253.0 L928.4 249.4 L930.8 245.8 L933.2 242.2 L935.6 238.6 L937.9 235.0 L940.2 231.4 L942.5 227.7 L944.8 224.0 L947.0 220.3 L949.2 216.7 L951.4 213.0 L953.7 209.3 L955.9 205.5 L958.2 201.8 L960.5 198.1 L962.9 194.3 L965.4 190.6 L967.9 187.0 L970.4 183.3 L973.1 179.8 L975.9 176.2 L978.7 172.8 L981.6 169.4 L984.7 166.0 L987.9 162.8 L991.3 159.7 L994.7 156.7 L998.3 153.8 L1002.0 151.0 L1005.9 148.5 L1009.8 146.1 L1013.9 143.8 L1018.0 141.8 L1022.2 140.0 L1026.5 138.4 L1030.9 136.9 L1035.5 135.7 L1040.6 134.8 L1045.8 134.3 L1050.4 133.9 L1053.5 133.6Z" fill="#4a3a30" fill-opacity="0.55"/>
<path d="M1054.4 144.4 L1051.3 144.7 L1046.9 145.0 L1042.1 145.6 L1037.8 146.3 L1034.0 147.3 L1030.1 148.6 L1026.3 150.0 L1022.5 151.6 L1018.9 153.5 L1015.2 155.4 L1011.7 157.6 L1008.2 159.9 L1004.9 162.3 L1001.7 165.0 L998.5 167.7 L995.5 170.6 L992.5 173.5 L989.7 176.6 L987.0 179.8 L984.3 183.0 L981.7 186.3 L979.2 189.7 L976.8 193.2 L974.3 196.7 L972.0 200.2 L969.7 203.8 L967.4 207.5 L965.2 211.2 L962.9 214.8 L960.7 218.5 L958.5 222.2 L956.3 226.0 L954.0 229.7 L951.7 233.4 L949.4 237.1 L947.0 240.9 L944.6 244.6 L942.2 248.2 L939.8 251.8 L937.4 255.5 L934.9 259.1 L932.5 262.7 L930.1 266.3 L927.7 269.9 L925.4 273.5 L923.1 277.2 L920.9 280.8 L918.9 284.5 L917.0 288.2 L915.1 292.0 L913.5 295.6 L912.1 299.4 L910.9 303.1 L909.9 307.0 L909.0 311.0 L908.4 314.9 L908.0 318.9 L907.8 323.1 L907.7 327.5 L907.6 331.9 L907.5 336.4 L907.4 340.9 L907.3 345.4 L907.3 349.9 L907.2 354.6 L907.1 359.4 L907.0 363.7 L907.0 366.7 L904.1 366.6 L904.2 363.6 L904.3 359.3 L904.4 354.5 L904.5 349.8 L904.6 345.4 L904.7 340.8 L904.7 336.3 L904.9 331.8 L905.0 327.4 L905.1 323.0 L905.4 318.7 L905.8 314.5 L906.5 310.5 L907.4 306.4 L908.5 302.4 L909.8 298.5 L911.3 294.7 L913.0 290.9 L914.8 287.1 L916.8 283.4 L918.9 279.6 L921.1 276.0 L923.4 272.3 L925.7 268.6 L928.1 265.0 L930.5 261.4 L933.0 257.8 L935.4 254.1 L937.8 250.5 L940.2 246.9 L942.7 243.3 L945.0 239.6 L947.4 235.9 L949.7 232.2 L952.0 228.5 L954.3 224.7 L956.5 221.0 L958.7 217.3 L960.9 213.6 L963.2 210.0 L965.4 206.3 L967.7 202.6 L970.0 198.9 L972.4 195.4 L974.8 191.8 L977.3 188.3 L979.8 184.9 L982.5 181.5 L985.2 178.3 L988.0 175.0 L990.8 171.9 L993.8 168.9 L996.9 166.0 L1000.2 163.2 L1003.5 160.5 L1006.9 158.0 L1010.4 155.6 L1014.1 153.4 L1017.8 151.4 L1021.6 149.5 L1025.4 147.9 L1029.3 146.4 L1033.3 145.1 L1037.3 144.0 L1041.7 143.2 L1046.6 142.7 L1051.1 142.3 L1054.2 142.1Z" fill="#e8212b"/>
<path d="M1054.3 142.3 L1051.1 142.6 L1046.7 142.9 L1041.8 143.5 L1037.3 144.3 L1033.4 145.3 L1029.4 146.6 L1025.5 148.1 L1021.7 149.7 L1017.9 151.6 L1014.2 153.6 L1010.5 155.8 L1007.0 158.2 L1003.6 160.7 L1000.3 163.3 L997.1 166.2 L994.0 169.1 L991.0 172.1 L988.2 175.2 L985.4 178.4 L982.7 181.7 L980.0 185.0 L977.5 188.5 L975.0 192.0 L972.6 195.5 L970.2 199.1 L967.9 202.7 L965.6 206.4 L963.4 210.1 L961.1 213.8 L958.9 217.4 L956.7 221.2 L954.5 224.9 L952.2 228.6 L949.9 232.3 L947.6 236.0 L945.2 239.7 L942.9 243.4 L940.4 247.0 L938.0 250.7 L935.6 254.3 L933.2 257.9 L930.7 261.5 L928.3 265.1 L925.9 268.7 L923.6 272.4 L921.3 276.1 L919.1 279.8 L917.0 283.5 L915.0 287.2 L913.2 291.0 L911.5 294.8 L910.0 298.6 L908.8 302.5 L907.7 306.5 L906.8 310.5 L906.1 314.6 L905.6 318.7 L905.4 323.0 L905.3 327.4 L905.2 331.8 L905.0 336.3 L904.9 340.8 L904.9 345.4 L904.8 349.8 L904.7 354.5 L904.6 359.3 L904.5 363.6 L904.4 366.6 L901.0 366.5 L901.1 363.5 L901.3 359.2 L901.4 354.4 L901.5 349.7 L901.6 345.3 L901.7 340.8 L901.9 336.2 L902.0 331.7 L902.2 327.3 L902.3 322.8 L902.6 318.4 L903.1 314.1 L903.9 309.9 L904.8 305.7 L905.9 301.6 L907.3 297.6 L908.8 293.6 L910.6 289.8 L912.5 285.9 L914.6 282.1 L916.7 278.4 L918.9 274.6 L921.3 270.9 L923.6 267.3 L926.0 263.6 L928.5 260.0 L930.9 256.4 L933.3 252.8 L935.7 249.1 L938.2 245.5 L940.6 241.9 L942.9 238.3 L945.3 234.6 L947.6 230.9 L949.9 227.2 L952.1 223.4 L954.4 219.7 L956.6 216.0 L958.8 212.3 L961.0 208.6 L963.3 204.9 L965.6 201.2 L967.9 197.6 L970.3 194.0 L972.8 190.4 L975.3 186.9 L977.9 183.4 L980.5 180.0 L983.3 176.6 L986.1 173.4 L989.0 170.2 L992.1 167.1 L995.3 164.1 L998.6 161.3 L1002.0 158.5 L1005.5 155.9 L1009.1 153.5 L1012.8 151.2 L1016.6 149.2 L1020.5 147.3 L1024.5 145.5 L1028.5 144.0 L1032.6 142.7 L1036.8 141.6 L1041.4 140.8 L1046.4 140.2 L1050.9 139.9 L1054.0 139.6Z" fill="#231815"/>
<path d="M1054.0 139.8 L1050.9 140.1 L1046.4 140.5 L1041.4 141.0 L1036.8 141.8 L1032.7 142.9 L1028.6 144.2 L1024.6 145.8 L1020.6 147.5 L1016.7 149.4 L1012.9 151.5 L1009.2 153.7 L1005.6 156.1 L1002.1 158.7 L998.7 161.4 L995.4 164.3 L992.3 167.3 L989.2 170.3 L986.3 173.5 L983.5 176.8 L980.7 180.1 L978.0 183.5 L975.5 187.0 L973.0 190.5 L970.5 194.1 L968.1 197.7 L965.8 201.4 L963.5 205.1 L961.2 208.8 L959.0 212.5 L956.8 216.2 L954.6 219.9 L952.3 223.6 L950.1 227.3 L947.8 231.0 L945.5 234.7 L943.1 238.4 L940.8 242.0 L938.4 245.7 L935.9 249.3 L933.5 252.9 L931.1 256.5 L928.6 260.1 L926.2 263.7 L923.8 267.4 L921.5 271.1 L919.1 274.8 L916.9 278.5 L914.8 282.3 L912.8 286.1 L910.8 289.9 L909.1 293.7 L907.5 297.7 L906.2 301.7 L905.1 305.8 L904.1 310.0 L903.4 314.2 L902.9 318.5 L902.6 322.8 L902.4 327.3 L902.3 331.7 L902.1 336.2 L902.0 340.8 L901.9 345.3 L901.8 349.7 L901.7 354.4 L901.5 359.2 L901.4 363.5 L901.3 366.5 L898.7 366.4 L898.8 363.4 L899.0 359.2 L899.1 354.3 L899.3 349.6 L899.4 345.2 L899.5 340.7 L899.7 336.1 L899.8 331.6 L900.0 327.2 L900.2 322.7 L900.5 318.3 L901.0 313.8 L901.8 309.5 L902.8 305.2 L904.0 301.0 L905.4 296.9 L907.0 292.9 L908.8 288.9 L910.8 285.0 L912.9 281.2 L915.0 277.4 L917.3 273.6 L919.7 269.9 L922.0 266.2 L924.4 262.6 L926.9 258.9 L929.3 255.3 L931.8 251.7 L934.2 248.1 L936.6 244.5 L939.0 240.9 L941.3 237.2 L943.7 233.6 L946.0 229.9 L948.3 226.2 L950.5 222.5 L952.7 218.8 L955.0 215.1 L957.2 211.4 L959.4 207.7 L961.7 204.0 L964.0 200.2 L966.3 196.5 L968.8 192.9 L971.2 189.3 L973.7 185.7 L976.3 182.2 L979.0 178.8 L981.8 175.4 L984.7 172.1 L987.7 168.9 L990.8 165.7 L994.0 162.7 L997.3 159.8 L1000.8 157.0 L1004.4 154.4 L1008.1 151.9 L1011.9 149.6 L1015.8 147.5 L1019.7 145.5 L1023.8 143.8 L1027.9 142.2 L1032.1 140.8 L1036.4 139.7 L1041.1 138.9 L1046.2 138.3 L1050.7 138.0 L1053.9 137.7Z" fill="#c4a57c"/>
<path d="M1053.9 137.9 L1050.8 138.2 L1046.2 138.6 L1041.2 139.1 L1036.4 140.0 L1032.1 141.1 L1028.0 142.4 L1023.8 144.0 L1019.8 145.7 L1015.9 147.7 L1012.0 149.8 L1008.2 152.1 L1004.5 154.6 L1000.9 157.2 L997.5 160.0 L994.2 162.9 L990.9 165.9 L987.8 169.0 L984.9 172.3 L982.0 175.6 L979.2 178.9 L976.5 182.4 L973.9 185.9 L971.4 189.4 L969.0 193.0 L966.5 196.7 L964.2 200.4 L961.9 204.1 L959.6 207.8 L957.4 211.5 L955.2 215.2 L953.0 218.9 L950.7 222.6 L948.5 226.3 L946.2 230.0 L943.9 233.7 L941.5 237.4 L939.2 241.0 L936.8 244.6 L934.4 248.2 L932.0 251.8 L929.5 255.4 L927.1 259.1 L924.6 262.7 L922.2 266.4 L919.9 270.0 L917.5 273.8 L915.2 277.5 L913.1 281.3 L911.0 285.2 L909.0 289.0 L907.2 293.0 L905.6 297.0 L904.2 301.1 L903.1 305.3 L902.1 309.6 L901.3 313.9 L900.8 318.3 L900.5 322.7 L900.3 327.2 L900.1 331.6 L899.9 336.1 L899.8 340.7 L899.7 345.2 L899.6 349.7 L899.4 354.3 L899.2 359.2 L899.1 363.5 L899.0 366.4 L894.4 366.3 L894.5 363.3 L894.7 359.0 L894.9 354.2 L895.1 349.5 L895.3 345.1 L895.4 340.6 L895.6 336.0 L895.8 331.5 L896.1 327.0 L896.3 322.5 L896.6 317.9 L897.2 313.3 L898.1 308.7 L899.1 304.3 L900.4 300.0 L901.9 295.6 L903.6 291.4 L905.5 287.3 L907.6 283.4 L909.7 279.5 L912.0 275.6 L914.3 271.8 L916.7 268.0 L919.1 264.3 L921.5 260.6 L924.0 257.0 L926.4 253.3 L928.8 249.7 L931.3 246.1 L933.7 242.5 L936.0 238.9 L938.4 235.3 L940.7 231.7 L943.0 228.0 L945.3 224.3 L947.5 220.6 L949.7 217.0 L951.9 213.3 L954.2 209.6 L956.4 205.8 L958.7 202.1 L961.0 198.4 L963.4 194.6 L965.9 190.9 L968.4 187.3 L970.9 183.7 L973.6 180.1 L976.3 176.6 L979.1 173.2 L982.1 169.8 L985.1 166.4 L988.3 163.2 L991.6 160.1 L995.1 157.1 L998.7 154.2 L1002.4 151.5 L1006.2 149.0 L1010.1 146.6 L1014.1 144.4 L1018.3 142.4 L1022.4 140.5 L1026.7 138.9 L1031.1 137.5 L1035.6 136.3 L1040.6 135.4 L1045.9 134.8 L1050.4 134.5 L1053.6 134.2Z" fill="#00a0e9"/>
<path d="M875.8 417.4 L876.8 420.4 L878.1 424.4 L879.7 429.1 L881.3 433.8 L882.9 437.9 L884.6 441.7 L886.3 445.6 L888.1 449.4 L889.9 453.3 L891.7 457.1 L893.5 460.9 L895.5 464.6 L897.5 468.3 L899.6 472.1 L901.8 475.7 L904.0 479.4 L906.3 483.0 L908.7 486.6 L911.1 490.1 L913.6 493.6 L916.1 497.0 L918.7 500.4 L921.4 503.8 L924.1 507.1 L926.9 510.4 L929.7 513.6 L932.5 516.8 L935.4 520.0 L938.3 523.1 L941.3 526.1 L944.3 529.1 L947.5 532.0 L950.6 534.9 L953.8 537.7 L957.1 540.4 L960.4 543.1 L963.8 545.7 L967.1 548.3 L970.6 550.7 L974.0 553.1 L977.5 555.4 L981.1 557.7 L984.7 559.8 L988.4 561.9 L992.1 564.0 L995.8 565.9 L999.6 567.8 L1003.5 569.6 L1007.4 571.4 L1011.3 573.0 L1015.3 574.6 L1019.2 576.1 L1023.3 577.6 L1027.3 578.9 L1031.4 580.2 L1035.5 581.4 L1039.6 582.6 L1043.8 583.7 L1048.0 584.7 L1052.2 585.6 L1056.7 586.5 L1061.6 587.4 L1066.4 588.2 L1070.6 588.9 L1073.6 589.3 L1070.4 608.9 L1067.4 608.4 L1063.2 607.7 L1058.3 606.9 L1053.1 605.9 L1048.2 605.0 L1043.6 604.0 L1039.1 603.0 L1034.6 601.9 L1030.1 600.7 L1025.6 599.4 L1021.2 598.0 L1016.8 596.6 L1012.4 595.1 L1008.0 593.5 L1003.7 591.8 L999.4 590.0 L995.1 588.1 L990.9 586.2 L986.7 584.2 L982.5 582.0 L978.4 579.9 L974.4 577.6 L970.4 575.2 L966.5 572.8 L962.6 570.3 L958.7 567.7 L954.9 565.0 L951.2 562.3 L947.5 559.5 L943.9 556.6 L940.3 553.6 L936.8 550.6 L933.3 547.5 L929.9 544.3 L926.5 541.1 L923.2 537.8 L920.0 534.5 L916.8 531.1 L913.7 527.7 L910.7 524.2 L907.8 520.7 L904.8 517.1 L902.0 513.4 L899.2 509.8 L896.4 506.0 L893.7 502.2 L891.1 498.4 L888.5 494.5 L886.0 490.6 L883.6 486.7 L881.3 482.7 L879.0 478.7 L876.8 474.6 L874.6 470.5 L872.5 466.3 L870.6 462.1 L868.7 457.8 L867.0 453.5 L865.5 449.0 L864.1 444.5 L862.7 439.5 L861.4 434.3 L860.3 429.3 L859.4 425.1 L858.8 422.2Z" fill="#4a3a30" fill-opacity="0.55"/>
<path d="M875.4 417.6 L876.3 420.5 L877.6 424.6 L879.1 429.2 L880.8 433.9 L882.4 438.1 L884.0 441.9 L885.8 445.8 L887.6 449.6 L889.3 453.5 L891.1 457.4 L893.0 461.1 L894.9 464.9 L897.0 468.6 L899.1 472.4 L901.3 476.0 L903.5 479.7 L905.8 483.3 L908.2 486.9 L910.6 490.4 L913.1 493.9 L915.7 497.4 L918.3 500.8 L920.9 504.2 L923.6 507.5 L926.4 510.8 L929.2 514.0 L932.1 517.2 L935.0 520.4 L937.9 523.5 L940.9 526.5 L943.9 529.5 L947.1 532.4 L950.2 535.3 L953.5 538.1 L956.7 540.9 L960.0 543.6 L963.4 546.2 L966.8 548.7 L970.2 551.2 L973.7 553.6 L977.2 555.9 L980.8 558.2 L984.4 560.3 L988.1 562.4 L991.8 564.5 L995.6 566.4 L999.4 568.3 L1003.3 570.1 L1007.2 571.9 L1011.1 573.6 L1015.1 575.1 L1019.0 576.7 L1023.1 578.1 L1027.1 579.5 L1031.2 580.8 L1035.3 582.0 L1039.5 583.1 L1043.7 584.2 L1047.9 585.2 L1052.1 586.2 L1056.6 587.1 L1061.5 587.9 L1066.4 588.7 L1070.5 589.4 L1073.5 589.9 L1072.6 595.6 L1069.6 595.1 L1065.4 594.4 L1060.6 593.6 L1055.6 592.8 L1050.9 591.8 L1046.6 590.9 L1042.3 589.9 L1038.0 588.8 L1033.8 587.6 L1029.5 586.4 L1025.3 585.1 L1021.2 583.7 L1017.0 582.2 L1012.9 580.7 L1008.9 579.1 L1004.8 577.4 L1000.8 575.6 L996.8 573.7 L992.9 571.8 L989.0 569.8 L985.2 567.7 L981.4 565.5 L977.7 563.3 L974.0 561.0 L970.3 558.6 L966.8 556.2 L963.2 553.6 L959.7 551.0 L956.3 548.4 L952.9 545.6 L949.5 542.8 L946.2 539.9 L942.9 537.0 L939.7 534.0 L936.5 530.9 L933.5 527.8 L930.4 524.6 L927.5 521.4 L924.6 518.2 L921.7 514.8 L918.9 511.5 L916.1 508.1 L913.3 504.6 L910.7 501.1 L908.1 497.6 L905.5 494.0 L903.0 490.4 L900.6 486.7 L898.2 483.0 L895.9 479.2 L893.7 475.5 L891.6 471.7 L889.5 467.8 L887.4 464.0 L885.5 460.1 L883.7 456.1 L881.9 452.1 L880.1 448.1 L878.4 444.1 L876.9 440.0 L875.3 435.6 L873.8 430.7 L872.4 426.0 L871.2 421.9 L870.4 419.0Z" fill="#5f2d86"/>
<path d="M870.6 418.9 L871.4 421.8 L872.6 425.9 L874.0 430.7 L875.5 435.5 L877.1 440.0 L878.7 444.0 L880.3 448.0 L882.1 452.0 L883.9 456.0 L885.7 459.9 L887.7 463.9 L889.7 467.7 L891.8 471.5 L893.9 475.3 L896.2 479.1 L898.5 482.9 L900.8 486.6 L903.2 490.2 L905.7 493.9 L908.3 497.4 L910.9 501.0 L913.5 504.5 L916.3 507.9 L919.0 511.3 L921.9 514.7 L924.7 518.0 L927.7 521.3 L930.6 524.5 L933.6 527.6 L936.7 530.7 L939.9 533.8 L943.1 536.8 L946.3 539.7 L949.7 542.6 L953.0 545.4 L956.4 548.2 L959.9 550.8 L963.4 553.4 L966.9 556.0 L970.5 558.4 L974.1 560.8 L977.8 563.1 L981.5 565.3 L985.3 567.5 L989.1 569.6 L993.0 571.6 L996.9 573.5 L1000.9 575.4 L1004.9 577.1 L1009.0 578.8 L1013.0 580.5 L1017.1 582.0 L1021.2 583.5 L1025.4 584.8 L1029.6 586.2 L1033.8 587.4 L1038.1 588.5 L1042.4 589.6 L1046.7 590.7 L1051.0 591.6 L1055.6 592.5 L1060.6 593.4 L1065.5 594.2 L1069.6 594.9 L1072.6 595.4 L1072.3 597.2 L1069.3 596.7 L1065.2 596.1 L1060.3 595.3 L1055.3 594.4 L1050.6 593.4 L1046.3 592.5 L1041.9 591.5 L1037.6 590.4 L1033.3 589.2 L1029.1 588.0 L1024.8 586.6 L1020.6 585.2 L1016.5 583.8 L1012.3 582.2 L1008.2 580.6 L1004.2 578.9 L1000.1 577.1 L996.1 575.2 L992.1 573.3 L988.2 571.3 L984.4 569.2 L980.5 567.0 L976.8 564.8 L973.1 562.4 L969.4 560.0 L965.8 557.6 L962.2 555.0 L958.7 552.4 L955.2 549.7 L951.8 546.9 L948.4 544.1 L945.0 541.2 L941.7 538.3 L938.5 535.2 L935.3 532.2 L932.2 529.0 L929.2 525.8 L926.2 522.6 L923.2 519.3 L920.4 516.0 L917.5 512.6 L914.7 509.2 L912.0 505.7 L909.3 502.2 L906.7 498.6 L904.1 495.0 L901.6 491.3 L899.1 487.6 L896.8 483.9 L894.4 480.1 L892.2 476.4 L890.0 472.5 L887.9 468.7 L885.9 464.8 L883.9 460.8 L882.1 456.8 L880.3 452.8 L878.5 448.8 L876.9 444.7 L875.3 440.6 L873.8 436.1 L872.3 431.2 L870.9 426.4 L869.8 422.3 L868.9 419.3Z" fill="#231815"/>
<path d="M869.1 419.3 L870.0 422.2 L871.1 426.3 L872.5 431.1 L874.0 436.0 L875.5 440.5 L877.1 444.6 L878.7 448.7 L880.5 452.7 L882.3 456.7 L884.2 460.7 L886.1 464.6 L888.1 468.5 L890.2 472.4 L892.4 476.2 L894.7 480.0 L897.0 483.8 L899.3 487.5 L901.8 491.2 L904.3 494.9 L906.9 498.5 L909.5 502.0 L912.2 505.5 L914.9 509.0 L917.7 512.4 L920.5 515.8 L923.4 519.1 L926.4 522.4 L929.4 525.7 L932.4 528.9 L935.5 532.0 L938.7 535.1 L941.9 538.1 L945.2 541.0 L948.5 543.9 L951.9 546.8 L955.4 549.5 L958.8 552.2 L962.4 554.8 L965.9 557.4 L969.5 559.8 L973.2 562.2 L976.9 564.6 L980.7 566.8 L984.5 569.0 L988.3 571.1 L992.2 573.1 L996.2 575.0 L1000.2 576.9 L1004.3 578.7 L1008.3 580.4 L1012.4 582.0 L1016.5 583.6 L1020.7 585.0 L1024.9 586.4 L1029.1 587.7 L1033.4 589.0 L1037.7 590.1 L1042.0 591.2 L1046.3 592.3 L1050.6 593.2 L1055.3 594.1 L1060.3 595.0 L1065.2 595.8 L1069.4 596.5 L1072.3 597.0 L1071.7 600.6 L1068.8 600.1 L1064.6 599.5 L1059.7 598.7 L1054.6 597.8 L1049.9 596.8 L1045.5 595.9 L1041.1 594.8 L1036.7 593.7 L1032.4 592.6 L1028.0 591.3 L1023.8 590.0 L1019.5 588.6 L1015.3 587.1 L1011.1 585.5 L1006.9 583.9 L1002.8 582.1 L998.6 580.3 L994.6 578.4 L990.5 576.5 L986.5 574.4 L982.6 572.3 L978.7 570.1 L974.9 567.8 L971.1 565.5 L967.4 563.1 L963.7 560.5 L960.1 558.0 L956.5 555.3 L953.0 552.6 L949.5 549.8 L946.0 546.9 L942.6 544.0 L939.3 541.0 L936.0 537.9 L932.7 534.8 L929.6 531.6 L926.5 528.4 L923.4 525.1 L920.5 521.8 L917.5 518.4 L914.6 515.0 L911.8 511.5 L909.0 508.0 L906.3 504.4 L903.6 500.8 L901.0 497.1 L898.5 493.4 L896.0 489.7 L893.6 485.9 L891.3 482.1 L889.0 478.2 L886.8 474.3 L884.6 470.4 L882.6 466.4 L880.6 462.4 L878.7 458.4 L876.9 454.3 L875.2 450.1 L873.5 445.9 L872.0 441.7 L870.5 437.1 L869.1 432.1 L867.8 427.2 L866.7 423.1 L866.0 420.2Z" fill="#e4572a"/>
<path d="M866.2 420.1 L866.9 423.0 L868.0 427.2 L869.3 432.0 L870.8 437.0 L872.2 441.6 L873.8 445.9 L875.4 450.0 L877.1 454.2 L878.9 458.3 L880.8 462.3 L882.8 466.3 L884.9 470.3 L887.0 474.2 L889.2 478.1 L891.5 481.9 L893.8 485.7 L896.2 489.5 L898.7 493.3 L901.3 497.0 L903.8 500.6 L906.5 504.2 L909.2 507.8 L912.0 511.3 L914.8 514.8 L917.7 518.2 L920.6 521.6 L923.6 524.9 L926.7 528.2 L929.8 531.4 L932.9 534.6 L936.1 537.7 L939.4 540.8 L942.8 543.8 L946.2 546.7 L949.6 549.6 L953.1 552.4 L956.6 555.1 L960.2 557.8 L963.9 560.3 L967.5 562.9 L971.3 565.3 L975.0 567.6 L978.9 569.9 L982.7 572.1 L986.7 574.2 L990.6 576.3 L994.7 578.2 L998.7 580.1 L1002.9 581.9 L1007.0 583.7 L1011.2 585.3 L1015.3 586.9 L1019.6 588.3 L1023.8 589.8 L1028.1 591.1 L1032.4 592.3 L1036.8 593.5 L1041.2 594.6 L1045.5 595.6 L1049.9 596.6 L1054.7 597.5 L1059.7 598.4 L1064.6 599.2 L1068.8 599.9 L1071.8 600.4 L1071.5 602.1 L1068.5 601.7 L1064.3 601.0 L1059.4 600.2 L1054.3 599.3 L1049.6 598.3 L1045.2 597.4 L1040.7 596.3 L1036.3 595.2 L1032.0 594.1 L1027.6 592.8 L1023.3 591.5 L1019.0 590.0 L1014.7 588.6 L1010.5 587.0 L1006.3 585.3 L1002.1 583.6 L998.0 581.8 L993.9 579.9 L989.8 577.9 L985.8 575.8 L981.9 573.7 L977.9 571.5 L974.1 569.2 L970.3 566.8 L966.5 564.4 L962.8 561.9 L959.1 559.3 L955.5 556.6 L951.9 553.8 L948.4 551.0 L945.0 548.1 L941.5 545.2 L938.2 542.2 L934.8 539.1 L931.6 535.9 L928.4 532.8 L925.3 529.5 L922.2 526.2 L919.2 522.9 L916.3 519.5 L913.4 516.0 L910.5 512.5 L907.7 509.0 L905.0 505.4 L902.3 501.7 L899.7 498.1 L897.1 494.3 L894.6 490.6 L892.2 486.8 L889.9 482.9 L887.6 479.0 L885.3 475.1 L883.2 471.2 L881.1 467.2 L879.1 463.1 L877.2 459.1 L875.4 454.9 L873.7 450.7 L872.1 446.5 L870.6 442.2 L869.1 437.5 L867.7 432.5 L866.4 427.6 L865.4 423.5 L864.6 420.5Z" fill="#6b5a3f"/>
<path d="M864.8 420.5 L865.6 423.4 L866.6 427.6 L867.9 432.4 L869.3 437.5 L870.8 442.1 L872.3 446.4 L873.9 450.7 L875.6 454.8 L877.4 459.0 L879.3 463.0 L881.3 467.1 L883.4 471.1 L885.6 475.0 L887.8 478.9 L890.1 482.8 L892.4 486.6 L894.9 490.4 L897.3 494.2 L899.9 497.9 L902.5 501.6 L905.2 505.2 L907.9 508.8 L910.7 512.4 L913.6 515.9 L916.5 519.3 L919.4 522.7 L922.4 526.0 L925.5 529.3 L928.6 532.6 L931.8 535.8 L935.0 538.9 L938.3 542.0 L941.7 545.0 L945.1 548.0 L948.6 550.8 L952.1 553.6 L955.7 556.4 L959.3 559.1 L962.9 561.7 L966.6 564.2 L970.4 566.6 L974.2 569.0 L978.1 571.3 L982.0 573.5 L985.9 575.6 L989.9 577.7 L994.0 579.7 L998.1 581.6 L1002.2 583.4 L1006.4 585.1 L1010.6 586.8 L1014.8 588.3 L1019.1 589.8 L1023.4 591.2 L1027.7 592.6 L1032.0 593.8 L1036.4 595.0 L1040.8 596.1 L1045.2 597.1 L1049.6 598.1 L1054.4 599.0 L1059.5 599.9 L1064.4 600.8 L1068.6 601.4 L1071.5 601.9 L1071.2 604.0 L1068.2 603.6 L1064.0 602.9 L1059.1 602.1 L1054.0 601.2 L1049.2 600.2 L1044.7 599.2 L1040.3 598.2 L1035.9 597.1 L1031.4 595.9 L1027.0 594.7 L1022.7 593.3 L1018.4 591.9 L1014.1 590.4 L1009.8 588.8 L1005.6 587.1 L1001.4 585.4 L997.2 583.6 L993.0 581.6 L988.9 579.7 L984.9 577.6 L980.9 575.4 L976.9 573.2 L973.0 570.9 L969.2 568.5 L965.4 566.1 L961.6 563.5 L957.9 560.9 L954.3 558.2 L950.7 555.4 L947.2 552.6 L943.6 549.7 L940.2 546.7 L936.8 543.7 L933.4 540.6 L930.1 537.4 L926.9 534.2 L923.8 530.9 L920.7 527.6 L917.7 524.2 L914.7 520.8 L911.8 517.3 L908.9 513.8 L906.1 510.2 L903.3 506.6 L900.6 503.0 L898.0 499.2 L895.4 495.5 L892.9 491.7 L890.5 487.8 L888.1 484.0 L885.8 480.1 L883.5 476.1 L881.4 472.1 L879.3 468.1 L877.3 464.0 L875.3 459.9 L873.5 455.8 L871.8 451.5 L870.2 447.2 L868.7 442.9 L867.3 438.1 L865.9 433.0 L864.7 428.1 L863.7 423.9 L863.0 421.0Z" fill="#f4f4f4"/>
<path d="M863.2 420.9 L863.9 423.9 L864.9 428.0 L866.1 432.9 L867.5 438.0 L868.9 442.8 L870.4 447.1 L872.0 451.4 L873.7 455.7 L875.5 459.8 L877.5 463.9 L879.5 468.0 L881.6 472.0 L883.8 476.0 L886.0 479.9 L888.3 483.8 L890.7 487.7 L893.1 491.6 L895.6 495.3 L898.2 499.1 L900.8 502.8 L903.5 506.5 L906.3 510.1 L909.1 513.6 L912.0 517.2 L914.9 520.6 L917.9 524.0 L920.9 527.4 L924.0 530.7 L927.1 534.0 L930.3 537.2 L933.6 540.4 L936.9 543.5 L940.4 546.5 L943.8 549.5 L947.3 552.4 L950.8 555.2 L954.4 558.0 L958.1 560.7 L961.8 563.3 L965.5 565.9 L969.3 568.3 L973.2 570.7 L977.1 573.0 L981.0 575.2 L985.0 577.4 L989.0 579.4 L993.1 581.4 L997.3 583.3 L1001.5 585.2 L1005.7 586.9 L1009.9 588.6 L1014.1 590.2 L1018.4 591.7 L1022.8 593.1 L1027.1 594.4 L1031.5 595.7 L1035.9 596.9 L1040.3 598.0 L1044.8 599.0 L1049.2 600.0 L1054.0 600.9 L1059.2 601.8 L1064.1 602.7 L1068.3 603.3 L1071.2 603.8 L1070.8 606.1 L1067.9 605.6 L1063.7 605.0 L1058.8 604.1 L1053.6 603.2 L1048.7 602.3 L1044.3 601.3 L1039.8 600.3 L1035.3 599.2 L1030.9 598.0 L1026.4 596.7 L1022.0 595.4 L1017.7 593.9 L1013.3 592.4 L1009.0 590.8 L1004.8 589.1 L1000.5 587.4 L996.3 585.5 L992.1 583.6 L988.0 581.6 L983.9 579.5 L979.8 577.3 L975.8 575.1 L971.9 572.8 L968.0 570.4 L964.2 567.9 L960.4 565.3 L956.6 562.7 L953.0 560.0 L949.3 557.2 L945.7 554.3 L942.2 551.4 L938.7 548.4 L935.3 545.3 L931.9 542.2 L928.6 539.0 L925.3 535.8 L922.1 532.5 L919.0 529.1 L916.0 525.7 L913.0 522.3 L910.0 518.8 L907.2 515.2 L904.3 511.6 L901.5 508.0 L898.8 504.3 L896.2 500.5 L893.6 496.8 L891.0 492.9 L888.5 489.0 L886.2 485.1 L883.8 481.2 L881.6 477.2 L879.4 473.2 L877.2 469.1 L875.2 465.0 L873.3 460.9 L871.4 456.7 L869.7 452.4 L868.2 448.0 L866.7 443.6 L865.3 438.7 L864.0 433.6 L862.8 428.6 L861.8 424.4 L861.1 421.5Z" fill="#0b6b3f"/>
<path d="M861.3 421.4 L862.0 424.4 L863.0 428.6 L864.2 433.5 L865.5 438.6 L866.9 443.5 L868.4 447.9 L869.9 452.3 L871.6 456.6 L873.5 460.8 L875.4 464.9 L877.5 469.0 L879.6 473.1 L881.8 477.1 L884.0 481.1 L886.4 485.0 L888.8 488.9 L891.2 492.8 L893.8 496.6 L896.4 500.4 L899.0 504.1 L901.7 507.8 L904.5 511.5 L907.3 515.1 L910.2 518.6 L913.2 522.1 L916.2 525.5 L919.2 528.9 L922.3 532.3 L925.5 535.6 L928.7 538.8 L932.1 542.0 L935.4 545.1 L938.9 548.2 L942.4 551.2 L945.9 554.1 L949.5 557.0 L953.1 559.8 L956.8 562.5 L960.5 565.1 L964.3 567.7 L968.1 570.2 L972.0 572.6 L976.0 574.9 L979.9 577.1 L984.0 579.3 L988.1 581.4 L992.2 583.4 L996.4 585.3 L1000.6 587.2 L1004.8 588.9 L1009.1 590.6 L1013.4 592.2 L1017.7 593.7 L1022.1 595.1 L1026.5 596.5 L1030.9 597.8 L1035.4 598.9 L1039.8 600.0 L1044.3 601.1 L1048.8 602.1 L1053.6 603.0 L1058.8 603.9 L1063.7 604.7 L1067.9 605.4 L1070.9 605.9 L1070.5 608.3 L1067.5 607.8 L1063.3 607.1 L1058.4 606.3 L1053.2 605.4 L1048.3 604.4 L1043.8 603.5 L1039.3 602.4 L1034.8 601.3 L1030.2 600.1 L1025.8 598.8 L1021.3 597.5 L1016.9 596.1 L1012.6 594.5 L1008.2 592.9 L1003.9 591.2 L999.6 589.5 L995.3 587.6 L991.1 585.7 L986.9 583.6 L982.8 581.5 L978.7 579.3 L974.7 577.1 L970.7 574.7 L966.8 572.3 L962.9 569.8 L959.1 567.2 L955.3 564.6 L951.6 561.8 L947.9 559.0 L944.3 556.1 L940.7 553.2 L937.2 550.1 L933.7 547.1 L930.3 543.9 L926.9 540.7 L923.6 537.4 L920.4 534.1 L917.3 530.7 L914.2 527.3 L911.2 523.8 L908.2 520.3 L905.3 516.7 L902.4 513.1 L899.6 509.4 L896.9 505.7 L894.2 501.9 L891.6 498.1 L889.0 494.2 L886.5 490.3 L884.1 486.4 L881.8 482.4 L879.5 478.4 L877.3 474.3 L875.1 470.2 L873.1 466.0 L871.1 461.8 L869.2 457.6 L867.6 453.2 L866.0 448.8 L864.6 444.3 L863.2 439.4 L862.0 434.1 L860.8 429.2 L859.9 425.0 L859.2 422.0Z" fill="#e8212b"/>
<path d="M1124.5 430.5 H1265.6" fill="none" stroke="#5f2d86" stroke-width="3.20" stroke-linejoin="miter" />
<path d="M1124.5 468.1 H1265.6" fill="none" stroke="#5f2d86" stroke-width="3.20" stroke-linejoin="miter" />
<path d="M1124.5 505.4 H1446.2" fill="none" stroke="#2f2725" stroke-width="3.20" stroke-linejoin="miter" />
<path d="M1124.5 621.0 H1513" fill="none" stroke="#cecece" stroke-width="2.30" stroke-linejoin="miter" />
<path d="M1124.5 659.5 H1513" fill="none" stroke="#0b6b3f" stroke-width="3.20" stroke-linejoin="miter" />
<path d="M1124.5 581.2 H1440.0 A6.2 6.2 0 0 1 1452.4 581.2 H1479.4 V431.2" fill="none" stroke="#6b5a3f" stroke-width="3.20" stroke-linejoin="miter" />
<path d="M1124.5 543.2 H1354.2 V511.6 A6.2 6.2 0 0 0 1354.2 499.2 V431.2" fill="none" stroke="#e4572a" stroke-width="3.20" stroke-linejoin="miter" />
<path d="M1323.5 431.2 V505.4" fill="none" stroke="#2f2725" stroke-width="3.20" stroke-linejoin="miter" />
<path d="M1446.2 431.2 V614.5 A6.2 6.2 0 0 1 1446.2 626.9 V653.3 A6.2 6.2 0 0 1 1446.2 665.7 V700.3" fill="none" stroke="#2f2725" stroke-width="3.20" stroke-linejoin="miter" />
<path d="M1124.5 700.3 H1322.6 V749.7" fill="none" stroke="#e8212b" stroke-width="3.20" stroke-linejoin="miter" />
<path d="M1355.6 749.7 V700.3 H1513" fill="none" stroke="#2f2725" stroke-width="3.20" stroke-linejoin="miter" />
<circle cx="1323.5" cy="505.4" r="6.3" fill="#2f2725"/>
<circle cx="1446.2" cy="505.4" r="6.3" fill="#2f2725"/>
<circle cx="1446.0" cy="700.3" r="6.3" fill="#2f2725"/>
<rect x="1090.4" y="403.6" width="33.6" height="325.1" fill="#fff" stroke="#000" stroke-width="2.6"/>
<rect x="1091" y="416.4" width="24.4" height="27.9" fill="#fff" stroke="#231815" stroke-width="1.2"/>
<rect x="1091" y="454.7" width="24.4" height="27.9" fill="#fff" stroke="#231815" stroke-width="1.2"/>
<rect x="1091" y="491.9" width="24.4" height="27.9" fill="#fff" stroke="#231815" stroke-width="1.2"/>
<rect x="1091" y="530.0" width="24.4" height="27.9" fill="#fff" stroke="#231815" stroke-width="1.2"/>
<rect x="1091" y="567.7" width="24.4" height="27.9" fill="#fff" stroke="#231815" stroke-width="1.2"/>
<rect x="1091" y="605.7" width="24.4" height="27.9" fill="#fff" stroke="#231815" stroke-width="1.2"/>
<rect x="1091" y="645.7" width="24.4" height="27.9" fill="#fff" stroke="#231815" stroke-width="1.2"/>
<rect x="1091" y="685.7" width="24.4" height="27.9" fill="#fff" stroke="#231815" stroke-width="1.2"/>
<rect x="1072.4" y="390.7" width="18.1" height="352.8" fill="#fff" stroke="#000" stroke-width="2.5"/>
<g opacity="0.999"><text x="1133.00" y="421.00" font-size="15.70" fill="#352e2c" text-anchor="start" textLength="46.4" lengthAdjust="spacing">BELL+</text></g>
<text x="1181.50" y="421.60" font-size="16" fill="#352e2c" font-family="'Liberation Sans','Noto Sans CJK SC',sans-serif">（紫色）</text>
<g opacity="0.999"><text x="1134.00" y="458.10" font-size="15.70" fill="#352e2c" text-anchor="start" textLength="46.0" lengthAdjust="spacing">BELL -</text></g>
<text x="1181.50" y="458.70" font-size="16" fill="#352e2c" font-family="'Liberation Sans','Noto Sans CJK SC',sans-serif">（紫色）</text>
<g opacity="0.999"><text x="1130.40" y="497.20" font-size="15.70" fill="#352e2c" text-anchor="start" textLength="36.8" lengthAdjust="spacing">GND</text></g>
<text x="1166.90" y="497.80" font-size="16" fill="#352e2c" font-family="'Liberation Sans','Noto Sans CJK SC',sans-serif">（黑色）</text>
<g opacity="0.999"><text x="1130.90" y="532.80" font-size="15.70" fill="#352e2c" text-anchor="start" textLength="33.5" lengthAdjust="spacing">FIRE</text></g>
<text x="1164.30" y="533.40" font-size="16" fill="#352e2c" font-family="'Liberation Sans','Noto Sans CJK SC',sans-serif">（橙色）</text>
<g opacity="0.999"><text x="1130.40" y="572.30" font-size="15.70" fill="#352e2c" text-anchor="start" textLength="49.0" lengthAdjust="spacing">DOOR</text></g>
<text x="1179.50" y="572.90" font-size="16" fill="#352e2c" font-family="'Liberation Sans','Noto Sans CJK SC',sans-serif">（棕色）</text>
<g opacity="0.999"><text x="1132.50" y="611.90" font-size="15.70" fill="#352e2c" text-anchor="start" textLength="39.0" lengthAdjust="spacing">WG 1</text></g>
<text x="1173.50" y="612.50" font-size="16" fill="#352e2c" font-family="'Liberation Sans','Noto Sans CJK SC',sans-serif">（白色）</text>
<g opacity="0.999"><text x="1132.50" y="651.20" font-size="15.70" fill="#352e2c" text-anchor="start" textLength="40.0" lengthAdjust="spacing">WG 0</text></g>
<text x="1173.50" y="651.80" font-size="16" fill="#352e2c" font-family="'Liberation Sans','Noto Sans CJK SC',sans-serif">（绿色）</text>
<g opacity="0.999"><text x="1132.00" y="690.70" font-size="15.70" fill="#352e2c" text-anchor="start" textLength="57.4" lengthAdjust="spacing">ALARM</text></g>
<text x="1190.30" y="691.30" font-size="16" fill="#352e2c" font-family="'Liberation Sans','Noto Sans CJK SC',sans-serif">（红色）</text>
<text x="1298.00" y="420.80" font-size="20" letter-spacing="0.3" fill="#352e2c" font-family="'Liberation Sans','Noto Sans CJK SC',sans-serif">消防输入</text>
<text x="1442.60" y="420.80" font-size="20" letter-spacing="0.3" fill="#352e2c" font-family="'Liberation Sans','Noto Sans CJK SC',sans-serif">门磁</text>
<text x="1299.80" y="871.60" font-size="20" letter-spacing="0.3" fill="#352e2c" font-family="'Liberation Sans','Noto Sans CJK SC',sans-serif">报警输出</text>
<rect x="1559.8" y="591" width="201.2" height="170" fill="#a3d9f6"/>
<rect x="1513.8" y="597" width="41" height="157.3" fill="#029a45" stroke="#35452f" stroke-width="1.4"/>
<path d="M1518.6 597 V754.3" stroke="#35452f" stroke-width="1.4"/>
<rect x="1560.4" y="597" width="64" height="157.3" fill="#029a45" stroke="#35452f" stroke-width="1.4"/>
<circle cx="1536.7" cy="619.8" r="8.2" fill="#fff" stroke="#231815" stroke-width="1.0"/>
<path d="M1530.8 614.5 L1542.6 625.1" stroke="#231815" stroke-width="1.7"/>
<circle cx="1536.7" cy="657.7" r="8.2" fill="#fff" stroke="#231815" stroke-width="1.0"/>
<path d="M1530.8 652.4 L1542.6 663.0" stroke="#231815" stroke-width="1.7"/>
<circle cx="1536.7" cy="694.0" r="8.2" fill="#fff" stroke="#231815" stroke-width="1.0"/>
<path d="M1530.8 688.7 L1542.6 699.3" stroke="#231815" stroke-width="1.7"/>
<circle cx="1536.7" cy="730.0" r="8.2" fill="#fff" stroke="#231815" stroke-width="1.0"/>
<path d="M1530.8 724.7 L1542.6 735.3" stroke="#231815" stroke-width="1.7"/>
<g opacity="0.999"><text x="1568.60" y="626.80" font-size="21.00" fill="#231815" text-anchor="start" textLength="46.0" lengthAdjust="spacing">WG1</text></g>
<g opacity="0.999"><text x="1568.60" y="666.00" font-size="21.00" fill="#231815" text-anchor="start" textLength="47.0" lengthAdjust="spacing">WG0</text></g>
<g opacity="0.999"><text x="1567.50" y="701.50" font-size="21.00" fill="#231815" text-anchor="start" textLength="48.0" lengthAdjust="spacing">GND</text></g>
<g opacity="0.999"><text x="1567.00" y="737.30" font-size="21.00" fill="#231815" text-anchor="start" textLength="37.0" lengthAdjust="spacing">12V</text></g>
<text x="1640.00" y="681.50" font-size="20" fill="#352e2c" font-family="'Liberation Sans','Noto Sans CJK SC',sans-serif">门禁控制板</text>
<path d="M1309.8 825 V769 Q1309.8 758.8 1320 758.8 H1357.4 Q1367.6 758.8 1367.6 769 V825Z" fill="#e8212b"/>
<rect x="1304.4" y="823.8" width="68.6" height="18.4" fill="url(#albase)" stroke="#cbcbcb" stroke-width="0.8"/>
<rect x="1301.5" y="841.9" width="74.3" height="2.6" fill="#ececec" stroke="#c2c2c2" stroke-width="0.7"/>
<rect x="1055.1" y="103.2" width="84.4" height="67.2" rx="7" fill="#e3e3e3" stroke="#2f2725" stroke-width="3.4"/>
<path d="M1064.8 110.7 H1130.1 V148 H1121.8 V155.5 H1117.2 V162.3 H1077.8 V155.5 H1073.6 V148 H1064.8Z" fill="#2f2725"/>
<rect x="1070.70" y="111.9" width="4.2" height="9.6" fill="#fff100"/>
<rect x="1077.63" y="111.9" width="4.2" height="9.6" fill="#fff100"/>
<rect x="1084.56" y="111.9" width="4.2" height="9.6" fill="#fff100"/>
<rect x="1091.49" y="111.9" width="4.2" height="9.6" fill="#fff100"/>
<rect x="1098.42" y="111.9" width="4.2" height="9.6" fill="#fff100"/>
<rect x="1105.35" y="111.9" width="4.2" height="9.6" fill="#fff100"/>
<rect x="1112.28" y="111.9" width="4.2" height="9.6" fill="#fff100"/>
<rect x="1119.21" y="111.9" width="4.2" height="9.6" fill="#fff100"/>
<rect x="1157.2" y="111.5" width="67" height="52.4" fill="#e3e3e3" stroke="#2f2725" stroke-width="1.1"/>
<path d="M1184.4 113.4 H1212.9 M1184.4 162.1 H1212.9" stroke="#2f2725" stroke-width="2.6"/>
<path d="M1178 117.6 L1270.8 137.9" stroke="#0090df" stroke-width="1.45"/>
<path d="M1178 123.5 L1270.8 137.9" stroke="#0090df" stroke-width="1.45"/>
<path d="M1178 129.3 L1270.8 137.9" stroke="#0090df" stroke-width="1.45"/>
<path d="M1178 135.2 L1270.8 137.9" stroke="#0090df" stroke-width="1.45"/>
<path d="M1178 141.0 L1270.8 137.9" stroke="#0090df" stroke-width="1.45"/>
<path d="M1178 146.9 L1270.8 137.9" stroke="#0090df" stroke-width="1.45"/>
<path d="M1178 152.8 L1270.8 137.9" stroke="#0090df" stroke-width="1.45"/>
<path d="M1178 158.6 L1270.8 137.9" stroke="#0090df" stroke-width="1.45"/>
<rect x="1158.9" y="115.6" width="19.3" height="4.0" fill="#fff100"/>
<rect x="1158.9" y="121.5" width="19.3" height="4.0" fill="#fff100"/>
<rect x="1158.9" y="127.3" width="19.3" height="4.0" fill="#fff100"/>
<rect x="1158.9" y="133.2" width="19.3" height="4.0" fill="#fff100"/>
<rect x="1158.9" y="139.0" width="19.3" height="4.0" fill="#fff100"/>
<rect x="1158.9" y="144.9" width="19.3" height="4.0" fill="#fff100"/>
<rect x="1158.9" y="150.8" width="19.3" height="4.0" fill="#fff100"/>
<rect x="1158.9" y="156.6" width="19.3" height="4.0" fill="#fff100"/>
<rect x="1200.8" y="117.5" width="20" height="40.4" fill="none" stroke="#2f2725" stroke-width="1.3"/>
<rect x="1160.3" y="132.2" width="29.8" height="11.6" fill="#fff" stroke="#2f2725" stroke-width="1.3"/>
<rect x="1154.8" y="127.6" width="5.8" height="20.8" rx="1" fill="#fff" stroke="#2f2725" stroke-width="1.3"/>
<path d="M1272 137.9 H1308.6" stroke="#8e8e8e" stroke-width="10" stroke-linecap="round"/>
<circle cx="1270.9" cy="137.9" r="2.6" fill="#231815"/>
<path d="M1317.2 131 L1437.3 127.4 L1477.9 135.7 L1332.8 140.4Z" fill="url(#swtop)"/>
<path d="M1317.2 131 L1332.8 140.4 V155.2 L1317.2 145Z" fill="#4d5e64"/>
<path d="M1332.8 140.4 L1477.9 135.7 V149 L1332.8 155.2Z" fill="#586a6e"/>
<path d="M1334.5 141.2 L1417 138.4 V150.6 L1334.5 154.2Z" fill="#3c4a4c"/>
<rect x="1356.5" y="140.9" width="3.9" height="3.8" fill="#c9c08a"/>
<rect x="1357.2" y="142.2" width="2.5" height="2.2" fill="#3a4242"/>
<rect x="1361.5" y="140.7" width="3.9" height="3.8" fill="#c9c08a"/>
<rect x="1362.2" y="142.0" width="2.5" height="2.2" fill="#3a4242"/>
<rect x="1366.5" y="140.5" width="3.9" height="3.8" fill="#c9c08a"/>
<rect x="1367.2" y="141.8" width="2.5" height="2.2" fill="#3a4242"/>
<rect x="1371.5" y="140.4" width="3.9" height="3.8" fill="#c9c08a"/>
<rect x="1372.2" y="141.7" width="2.5" height="2.2" fill="#3a4242"/>
<rect x="1376.5" y="140.2" width="3.9" height="3.8" fill="#c9c08a"/>
<rect x="1377.2" y="141.5" width="2.5" height="2.2" fill="#3a4242"/>
<rect x="1381.5" y="140.1" width="3.9" height="3.8" fill="#c9c08a"/>
<rect x="1382.2" y="141.4" width="2.5" height="2.2" fill="#3a4242"/>
<rect x="1387.7" y="139.9" width="3.9" height="3.8" fill="#c9c08a"/>
<rect x="1388.4" y="141.2" width="2.5" height="2.2" fill="#3a4242"/>
<rect x="1392.7" y="139.7" width="3.9" height="3.8" fill="#c9c08a"/>
<rect x="1393.4" y="141.0" width="2.5" height="2.2" fill="#3a4242"/>
<rect x="1397.7" y="139.5" width="3.9" height="3.8" fill="#c9c08a"/>
<rect x="1398.4" y="140.8" width="2.5" height="2.2" fill="#3a4242"/>
<rect x="1402.7" y="139.4" width="3.9" height="3.8" fill="#c9c08a"/>
<rect x="1403.4" y="140.7" width="2.5" height="2.2" fill="#3a4242"/>
<rect x="1407.7" y="139.2" width="3.9" height="3.8" fill="#c9c08a"/>
<rect x="1408.4" y="140.5" width="2.5" height="2.2" fill="#3a4242"/>
<rect x="1412.7" y="139.0" width="3.9" height="3.8" fill="#c9c08a"/>
<rect x="1413.4" y="140.3" width="2.5" height="2.2" fill="#3a4242"/>
<rect x="1356.5" y="145.9" width="3.9" height="3.8" fill="#c9c08a"/>
<rect x="1357.2" y="147.2" width="2.5" height="2.2" fill="#3a4242"/>
<rect x="1361.5" y="145.7" width="3.9" height="3.8" fill="#c9c08a"/>
<rect x="1362.2" y="147.0" width="2.5" height="2.2" fill="#3a4242"/>
<rect x="1366.5" y="145.5" width="3.9" height="3.8" fill="#c9c08a"/>
<rect x="1367.2" y="146.8" width="2.5" height="2.2" fill="#3a4242"/>
<rect x="1371.5" y="145.4" width="3.9" height="3.8" fill="#c9c08a"/>
<rect x="1372.2" y="146.7" width="2.5" height="2.2" fill="#3a4242"/>
<rect x="1376.5" y="145.2" width="3.9" height="3.8" fill="#c9c08a"/>
<rect x="1377.2" y="146.5" width="2.5" height="2.2" fill="#3a4242"/>
<rect x="1381.5" y="145.1" width="3.9" height="3.8" fill="#c9c08a"/>
<rect x="1382.2" y="146.4" width="2.5" height="2.2" fill="#3a4242"/>
<rect x="1387.7" y="144.9" width="3.9" height="3.8" fill="#c9c08a"/>
<rect x="1388.4" y="146.2" width="2.5" height="2.2" fill="#3a4242"/>
<rect x="1392.7" y="144.7" width="3.9" height="3.8" fill="#c9c08a"/>
<rect x="1393.4" y="146.0" width="2.5" height="2.2" fill="#3a4242"/>
<rect x="1397.7" y="144.5" width="3.9" height="3.8" fill="#c9c08a"/>
<rect x="1398.4" y="145.8" width="2.5" height="2.2" fill="#3a4242"/>
<rect x="1402.7" y="144.4" width="3.9" height="3.8" fill="#c9c08a"/>
<rect x="1403.4" y="145.7" width="2.5" height="2.2" fill="#3a4242"/>
<rect x="1407.7" y="144.2" width="3.9" height="3.8" fill="#c9c08a"/>
<rect x="1408.4" y="145.5" width="2.5" height="2.2" fill="#3a4242"/>
<rect x="1412.7" y="144.0" width="3.9" height="3.8" fill="#c9c08a"/>
<rect x="1413.4" y="145.3" width="2.5" height="2.2" fill="#3a4242"/>
<rect x="1336.5" y="142.6" width="5" height="3.6" fill="#b9b27c"/>
<rect x="1337.3" y="143.8" width="3.4" height="2" fill="#2f3636"/>
<rect x="1343.0" y="142.4" width="5" height="3.6" fill="#b9b27c"/>
<rect x="1343.8" y="143.6" width="3.4" height="2" fill="#2f3636"/>
<rect x="1338.5" y="148.6" width="5" height="3.6" fill="#b9b27c"/>
<rect x="1339.3" y="149.8" width="3.4" height="2" fill="#2f3636"/>
<rect x="1349.5" y="147.8" width="5" height="3.6" fill="#b9b27c"/>
<rect x="1350.3" y="149.0" width="3.4" height="2" fill="#2f3636"/>
<path d="M1471 136 V149.4" stroke="#44555a" stroke-width="1"/>
<path d="M1478 136.9 H1562" stroke="#8a8a8a" stroke-width="2.6"/>
<g opacity="0.999"><text x="1488.00" y="131.00" font-size="19.60" fill="#352e2c" text-anchor="start" textLength="63.0" lengthAdjust="spacing">TCP/IP</text></g>
<text x="1375.00" y="177.60" font-size="20" letter-spacing="0.3" fill="#352e2c" font-family="'Liberation Sans','Noto Sans CJK SC',sans-serif">交换机</text>
<text x="1619.00" y="196.40" font-size="20" letter-spacing="1.2" fill="#352e2c" font-family="'Liberation Sans','Noto Sans CJK SC',sans-serif">电脑</text>
<path d="M1608 49 L1619.5 50.4 L1618.8 136 L1640.3 136.5 V146 L1609 158.6 Z" fill="#1b1b1d"/>
<rect x="1561.2" y="48.6" width="50" height="110" rx="1.5" fill="#0f0f11"/>
<rect x="1563.6" y="52" width="45" height="11" fill="#1f2023"/>
<rect x="1563.6" y="65" width="45" height="14" fill="#18191b"/>
<rect x="1578.5" y="83.5" width="30" height="15" fill="#1d1e20"/>
<circle cx="1568.5" cy="87" r="1.2" fill="#5fb35f"/><circle cx="1568.5" cy="95.5" r="1.2" fill="#c2484a"/>
<rect x="1561.6" y="105.6" width="44.4" height="39.2" rx="2.5" fill="url(#pcsil)"/>
<rect x="1566" y="113.6" width="30" height="2.6" fill="#2a2c33"/><rect x="1574" y="114.2" width="10" height="1" fill="#8ab0f0"/>
<ellipse cx="1696" cy="166" rx="40" ry="9" fill="url(#mbase)"/>
<path d="M1685 139 H1718 L1717 166 H1686Z" fill="#171717"/>
<path d="M1625.8 28.9 L1776.3 25.6 L1774.1 143.7 L1614.7 133.7Z" fill="#1a1a1a"/>
<path d="M1774.8 26 L1776.6 25.6 L1774.4 143.7 L1772.6 143.4Z" fill="#9a9a9a"/>
<path d="M1629 32.2 L1772 30.2 L1769.7 135 L1618.5 128Z" fill="#060405"/>
<path d="M1629 32.2 L1772 30.2 L1770.6 88 L1626 57.8Z" fill="url(#scr)"/>
<path d="M1614.7 133.7 L1774.1 143.7 L1774 139 L1615.2 129Z" fill="#141414"/>
<path d="M1625.8 28.9 L1614.7 133.7 L1616.5 133.8 L1627.6 29Z" fill="#6a6a6a"/>
<rect x="438" y="29.1" width="100.1" height="99.5" rx="3.2" fill="url(#exb)"/>
<rect x="438.4" y="29.5" width="99.3" height="98.7" rx="3" fill="none" stroke="#f4f5f7" stroke-width="0.8"/>
<rect x="449.6" y="49.5" width="78.2" height="59" rx="3.4" fill="#f0f2f3" stroke="#b7a37e" stroke-width="0.8"/>
<rect x="483.5" y="55.6" width="9.4" height="1.5" rx="0.7" fill="#7fb87a"/>
<g fill="#f7f8f9" stroke="#7f858b" stroke-width="0.85"><path d="M485 72.5 H511 V78.7 H509.8 L509 77.2 L508.2 78.9 H506.8 L506 77.2 L505 78.9 H503 V76 H485Z"/><circle cx="476.2" cy="74.2" r="9.2"/><circle cx="476.2" cy="74.2" r="6.1"/></g>
<g opacity="0.999"><text x="508.00" y="99.90" font-size="5.30" fill="#3a3a3a" text-anchor="start" textLength="14.2" lengthAdjust="spacing" font-weight="bold">PUSH</text></g>
<polygon points="272.6,174.6 282.4,180.8 283.6,196.7 273.8,188.1" fill="#5f6c7c"/>
<polygon points="282.4,180.8 375.6,142.7 375.6,159.9 283.6,196.7" fill="url(#skb)"/>
<polygon points="283.6,148.9 375.6,134.2 375.6,144.0 282.4,181.4" fill="#7d807e"/>
<circle cx="275.6" cy="181.4" r="1.1" fill="#c9a864"/>
<circle cx="277.2" cy="186.9" r="1.1" fill="#c9a864"/>
<circle cx="278.7" cy="191.2" r="1.1" fill="#c9a864"/>
<polygon points="221.0,169.7 393.4,103.2 411.2,117.0 232.7,188.7" fill="url(#skp)"/>
<polygon points="232.7,188.7 411.2,117.0 411.2,118.5 233.1,190.3" fill="#6d6a66"/>
<polygon points="283.0,151.3 329.6,132.9 344.9,142.7 352.3,159.9 295.9,183.2 288.5,163.6" fill="#1c1d20"/>
<polygon points="295.9,148.9 315.5,141.5 317.9,146.4 298.3,154.4" fill="#6f7885"/>
<polygon points="294.6,161.1 337.6,144.0 343.1,156.2 352.3,159.3 351.1,164.8 302.0,183.8 294.6,180.2 290.3,164.8" fill="#8d8a85"/>
<polygon points="295.9,174.6 351.1,158.7 352.3,162.4 351.1,164.8 302.0,183.8 294.6,180.2" fill="#a7a59f"/>
<path d="M296.5,158.4 L341.5,140.7" stroke="#d4d7dc" stroke-width="1.8" stroke-linecap="round" fill="none"/>
<path d="M296.5,159.9 L342.2,141.9" stroke="#55585c" stroke-width="0.9" fill="none"/>
<circle cx="280.5" cy="157.7" r="2.6" fill="#7a7772" stroke="#5b5854" stroke-width="0.7"/>
<circle cx="280.5" cy="157.7" r="1" fill="#4a4744"/>
<circle cx="339.0" cy="135.1" r="2.6" fill="#7a7772" stroke="#5b5854" stroke-width="0.7"/>
<circle cx="339.0" cy="135.1" r="1" fill="#4a4744"/>
<circle cx="347.4" cy="151.9" r="2.6" fill="#7a7772" stroke="#5b5854" stroke-width="0.7"/>
<circle cx="347.4" cy="151.9" r="1" fill="#4a4744"/>
<circle cx="285.4" cy="176.5" r="2.6" fill="#7a7772" stroke="#5b5854" stroke-width="0.7"/>
<circle cx="285.4" cy="176.5" r="1" fill="#4a4744"/>
<ellipse cx="235.1" cy="175.3" rx="3.9" ry="2.9" fill="#f1f1f1" stroke="#6a6762" stroke-width="0.8" transform="rotate(-20 235.1 175.3)"/>
<ellipse cx="395.2" cy="113.1" rx="3.9" ry="2.9" fill="#f1f1f1" stroke="#6a6762" stroke-width="0.8" transform="rotate(-20 395.2 113.1)"/>
<polygon points="17.2,242.6 190.6,211.4 199.8,216.2 22.6,251.8" fill="url(#mgt)"/>
<polygon points="17.2,242.6 22.6,251.8 27.1,287.0 24.4,283.3" fill="#c4c5c8"/>
<polygon points="22.6,251.8 199.8,216.2 196.0,244.3 27.1,287.0" fill="url(#mgf)"/>
<polygon points="26.8,284.6 196.0,242.5 196.0,244.3 27.1,287.0" fill="#b2b4b8"/>
<polygon points="22.6,251.8 199.8,216.2 199.7,217.4 22.7,253.0" fill="#dcdde0"/>
<polygon points="193.6,218.7 199.8,216.2 196.0,244.3 192.3,243.8" fill="#d9dadc"/>
<polygon points="73.6,243.8 192.0,220.1 190.6,243.8 76.1,269.4" fill="#17171a" stroke="#17171a" stroke-width="1.5" stroke-linejoin="round"/>
<polygon points="83.1,242.1 187.0,222.7 186.5,226.8 83.6,247.0" fill="url(#mgbar)"/>
<polygon points="83.1,253.2 186.0,231.8 185.3,238.1 84.1,259.5" fill="url(#mgbar)"/>
<polygon points="83.6,264.5 183.9,241.8 183.6,244.8 84.4,267.9" fill="url(#mgbar)"/>
<polygon points="82.8,231.8 110.4,226.8 111.7,231.8 83.9,237.1" fill="#dde3f0" stroke="#4a6cbc" stroke-width="0.7"/>
<polygon points="83.6,232.1 90.3,230.9 91.3,235.1 84.6,236.5" fill="#3f62b5"/>
<polygon points="93.0,232.8 110.4,229.4 110.9,231.1 93.3,234.4" fill="#4a6cbc"/>
<ellipse cx="49.7" cy="241.3" rx="4.4" ry="3.4" fill="#1b1b1d"/>
<ellipse cx="49.7" cy="240.1" rx="3.6" ry="2.2" fill="#38383b"/>
<circle cx="23.4" cy="246.0" r="1.5" fill="#4a4540"/>
<circle cx="29.3" cy="266.6" r="1.5" fill="#4a4540"/>
<circle cx="195.3" cy="224.2" r="1.5" fill="#4a4540"/>
<circle cx="165.6" cy="218.7" r="1.5" fill="#4a4540"/>
<circle cx="192.3" cy="214.7" r="1.5" fill="#4a4540"/>
<polygon points="95.0,292.3 216.6,256.5 235.8,271.6 107.0,309.0" fill="url(#arm)"/>
<polygon points="95.0,292.3 107.0,309.0 109.0,317.9 96.2,300.3" fill="#8e949c"/>
<polygon points="107.0,309.0 235.8,271.6 235.8,275.6 115.4,319.1 109.0,317.9" fill="#c9ced5"/>
<polygon points="107.0,309.0 235.8,271.6 235.8,272.6 107.2,310.2" fill="#eef0f3"/>
<polygon points="108.4,315.1 235.8,273.7 235.8,275.6 115.4,319.1 109.0,317.9" fill="#9097a0"/>
<ellipse cx="170.9" cy="279.4" rx="3.3" ry="2.6" fill="#2a2c30"/>
<ellipse cx="125.1" cy="293.6" rx="3.6" ry="2.8" fill="#d9dce0" stroke="#80868e" stroke-width="0.8"/>
<circle cx="108.4" cy="299.5" r="1.4" fill="#33353a"/>
<circle cx="222.4" cy="263.5" r="1.4" fill="#33353a"/>
<polygon points="1293.2,346.3 1329.7,318.1 1375.6,335.5 1373.3,361.7 1342.4,395.3 1298.8,371.1" fill="#c4212a" stroke="#c4212a" stroke-width="0.6" stroke-linejoin="round"/>
<polygon points="1293.2,346.3 1343.1,363.0 1342.4,395.3 1298.8,371.1" fill="#c9222a"/>
<polygon points="1343.1,363.0 1375.6,335.5 1373.3,361.7 1342.4,395.3" fill="#b51c23"/>
<polygon points="1293.2,346.3 1329.7,318.1 1375.6,335.5 1343.1,363.0" fill="#dc2a30"/>
<polygon points="1304.8,342.0 1320.3,330.1 1362.2,343.8 1347.2,360.8" fill="#e8474b"/>
<polygon points="1308.9,343.8 1321.0,334.2 1358.6,346.9 1349.2,360.0" fill="#1f2326"/>
<polygon points="1312.9,341.2 1316.3,338.5 1351.2,350.3 1347.8,353.2" fill="#c8ccd0"/>
<polygon points="1315.2,341.3 1316.9,339.9 1349.2,350.7 1347.6,352.2" fill="#2d3235"/>
<polygon points="1324.3,348.9 1326.3,347.2 1351.9,355.4 1349.8,357.3" fill="#9aa0a4"/>
<polygon points="1339.1,326.1 1349.8,330.1 1347.2,334.8 1336.4,330.8" fill="#a8191f"/>
<circle cx="1319.9" cy="353.9" r="1.3" fill="#a9d9c0"/>
<path d="M1295.8,361.0 L1342.9,379.8 L1374.0,350.3" stroke="#a3161c" stroke-width="0.9" fill="none"/>
<rect x="1421.8" y="342.4" width="35" height="45" rx="2.5" fill="#efefef" stroke="#3e3633" stroke-width="1.2"/>
<rect x="1471.6" y="342.4" width="35" height="45" rx="2.5" fill="#efefef" stroke="#3e3633" stroke-width="1.2"/>
<rect x="1456.6" y="338.8" width="4" height="51.6" rx="0.8" fill="#f6f6f6" stroke="#3e3633" stroke-width="1.1"/>
<rect x="1467.7" y="338.8" width="4" height="51.6" rx="0.8" fill="#f6f6f6" stroke="#3e3633" stroke-width="1.1"/>
<path d="M1435.1 349.6 V380.5" stroke="#7d7d7d" stroke-width="0.8"/>
<path d="M1439.5 349.6 V380.5" stroke="#7d7d7d" stroke-width="0.8"/>
<path d="M1443.8 349.6 V380.5" stroke="#7d7d7d" stroke-width="0.8"/>
<path d="M1448.3 349.6 V380.5" stroke="#7d7d7d" stroke-width="0.8"/>
<path d="M1452.6 349.6 V380.5" stroke="#7d7d7d" stroke-width="0.8"/>
<path d="M1476.3 349.6 V380.5" stroke="#7d7d7d" stroke-width="0.8"/>
<path d="M1480.8 349.6 V380.5" stroke="#7d7d7d" stroke-width="0.8"/>
<path d="M1485.1 349.6 V380.5" stroke="#7d7d7d" stroke-width="0.8"/>
<path d="M1489.5 349.6 V380.5" stroke="#7d7d7d" stroke-width="0.8"/>
<path d="M1493.5 349.6 V380.5" stroke="#7d7d7d" stroke-width="0.8"/>
<rect x="79.8" y="606.4" width="148.6" height="185.4" fill="url(#pbx)" stroke="#f2f2f2" stroke-width="1.4"/>
<text x="109.60" y="676.40" font-size="12.7" font-weight="bold" fill="#f4f4f4" font-family="'Liberation Serif','Noto Serif CJK SC',serif">门禁专用电源箱</text>
<g opacity="0.999"><text x="95.60" y="692.40" font-size="9.20" fill="#ececec" text-anchor="start" textLength="116.5" lengthAdjust="spacing">Uninterrupted Power Supply</text></g>
<g opacity="0.999"><text x="95.60" y="706.30" font-size="5.10" fill="#ededed" text-anchor="start" textLength="46.0" lengthAdjust="spacing">Input:  AC 220V 50Hz</text></g>
<g opacity="0.999"><text x="95.60" y="715.30" font-size="5.10" fill="#ededed" text-anchor="start" textLength="42.0" lengthAdjust="spacing">Output:  DC 12V 3A</text></g>
<g opacity="0.999"><text x="95.60" y="724.20" font-size="5.10" fill="#ededed" text-anchor="start" textLength="50.0" lengthAdjust="spacing">Model:  FC-803A/903A</text></g>
<g opacity="0.999"><text x="90.80" y="756.50" font-size="6.00" fill="#f0f0f0" text-anchor="start" textLength="69.0" lengthAdjust="spacing">The following two conditions:</text></g>
<g opacity="0.999"><text x="90.80" y="764.60" font-size="4.80" fill="#ededed" text-anchor="start" textLength="100.5" lengthAdjust="spacing">1. This device may not cause harmful interference</text></g>
<g opacity="0.999"><text x="90.80" y="772.20" font-size="4.80" fill="#ededed" text-anchor="start" textLength="106.0" lengthAdjust="spacing">2. This device must accept any interference received</text></g></svg>
</body></html>
